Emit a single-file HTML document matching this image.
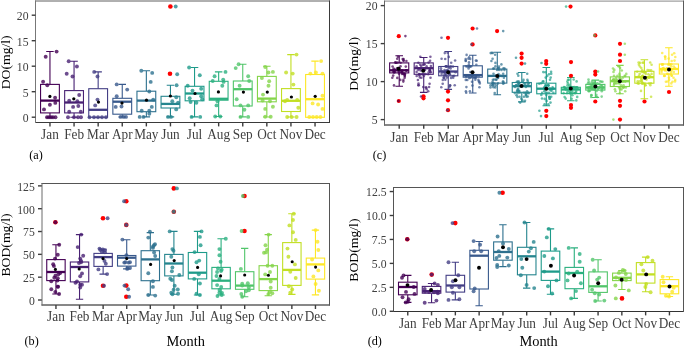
<!DOCTYPE html>
<html><head><meta charset="utf-8"><style>
html,body{margin:0;padding:0;background:#fff;}
svg{display:block;-webkit-font-smoothing:antialiased;filter:blur(0.3px);}
text{font-family:"Liberation Serif",serif;}
.tk{font-size:13.3px;fill:#404040;}
.xt{font-size:13.6px;fill:#404040;}
.mo{font-size:15px;fill:#000;}
.yt{font-size:13.7px;fill:#000;}
.lb{font-size:12.2px;fill:#000;}
</style></head><body>
<svg width="685" height="349" viewBox="0 0 685 349">
<rect width="685" height="349" fill="#fff"/>
<path d="M35.00 1.00H330.00" stroke="#616161" stroke-width="1"/>
<path d="M35.00 122.50H330.00" stroke="#3a3a3a" stroke-width="1"/>
<path d="M35.50 0.50V123.00" stroke="#777" stroke-width="1"/>
<path d="M329.50 0.50V123.00" stroke="#3a3a3a" stroke-width="1"/>
<line x1="31.70" y1="117.20" x2="35.50" y2="117.20" stroke="#3d3d3d" stroke-width="1.4"/>
<line x1="31.70" y1="91.70" x2="35.50" y2="91.70" stroke="#3d3d3d" stroke-width="1.4"/>
<line x1="31.70" y1="66.20" x2="35.50" y2="66.20" stroke="#3d3d3d" stroke-width="1.4"/>
<line x1="31.70" y1="40.70" x2="35.50" y2="40.70" stroke="#3d3d3d" stroke-width="1.4"/>
<line x1="31.70" y1="15.20" x2="35.50" y2="15.20" stroke="#3d3d3d" stroke-width="1.4"/>
<line x1="49.96" y1="122.40" x2="49.96" y2="126.40" stroke="#3d3d3d" stroke-width="1.4"/>
<line x1="74.06" y1="122.40" x2="74.06" y2="126.40" stroke="#3d3d3d" stroke-width="1.4"/>
<line x1="98.16" y1="122.40" x2="98.16" y2="126.40" stroke="#3d3d3d" stroke-width="1.4"/>
<line x1="122.25" y1="122.40" x2="122.25" y2="126.40" stroke="#3d3d3d" stroke-width="1.4"/>
<line x1="146.35" y1="122.40" x2="146.35" y2="126.40" stroke="#3d3d3d" stroke-width="1.4"/>
<line x1="170.45" y1="122.40" x2="170.45" y2="126.40" stroke="#3d3d3d" stroke-width="1.4"/>
<line x1="194.55" y1="122.40" x2="194.55" y2="126.40" stroke="#3d3d3d" stroke-width="1.4"/>
<line x1="218.65" y1="122.40" x2="218.65" y2="126.40" stroke="#3d3d3d" stroke-width="1.4"/>
<line x1="242.75" y1="122.40" x2="242.75" y2="126.40" stroke="#3d3d3d" stroke-width="1.4"/>
<line x1="266.84" y1="122.40" x2="266.84" y2="126.40" stroke="#3d3d3d" stroke-width="1.4"/>
<line x1="290.94" y1="122.40" x2="290.94" y2="126.40" stroke="#3d3d3d" stroke-width="1.4"/>
<line x1="315.04" y1="122.40" x2="315.04" y2="126.40" stroke="#3d3d3d" stroke-width="1.4"/>
<path d="M384.00 1.10H684.00" stroke="#888" stroke-width="1"/>
<path d="M384.00 125.00H684.00" stroke="#111" stroke-width="1"/>
<path d="M384.50 0.60V125.50" stroke="#666" stroke-width="1"/>
<path d="M683.50 0.60V125.50" stroke="#5a5a5a" stroke-width="1"/>
<line x1="380.70" y1="119.60" x2="384.50" y2="119.60" stroke="#3d3d3d" stroke-width="1.4"/>
<line x1="380.70" y1="81.60" x2="384.50" y2="81.60" stroke="#3d3d3d" stroke-width="1.4"/>
<line x1="380.70" y1="43.60" x2="384.50" y2="43.60" stroke="#3d3d3d" stroke-width="1.4"/>
<line x1="380.70" y1="5.60" x2="384.50" y2="5.60" stroke="#3d3d3d" stroke-width="1.4"/>
<line x1="399.21" y1="124.80" x2="399.21" y2="128.80" stroke="#3d3d3d" stroke-width="1.4"/>
<line x1="423.73" y1="124.80" x2="423.73" y2="128.80" stroke="#3d3d3d" stroke-width="1.4"/>
<line x1="448.24" y1="124.80" x2="448.24" y2="128.80" stroke="#3d3d3d" stroke-width="1.4"/>
<line x1="472.76" y1="124.80" x2="472.76" y2="128.80" stroke="#3d3d3d" stroke-width="1.4"/>
<line x1="497.28" y1="124.80" x2="497.28" y2="128.80" stroke="#3d3d3d" stroke-width="1.4"/>
<line x1="521.79" y1="124.80" x2="521.79" y2="128.80" stroke="#3d3d3d" stroke-width="1.4"/>
<line x1="546.31" y1="124.80" x2="546.31" y2="128.80" stroke="#3d3d3d" stroke-width="1.4"/>
<line x1="570.82" y1="124.80" x2="570.82" y2="128.80" stroke="#3d3d3d" stroke-width="1.4"/>
<line x1="595.34" y1="124.80" x2="595.34" y2="128.80" stroke="#3d3d3d" stroke-width="1.4"/>
<line x1="619.86" y1="124.80" x2="619.86" y2="128.80" stroke="#3d3d3d" stroke-width="1.4"/>
<line x1="644.37" y1="124.80" x2="644.37" y2="128.80" stroke="#3d3d3d" stroke-width="1.4"/>
<line x1="668.89" y1="124.80" x2="668.89" y2="128.80" stroke="#3d3d3d" stroke-width="1.4"/>
<path d="M41.50 183.50H330.00" stroke="#555" stroke-width="1"/>
<path d="M41.50 305.00H330.00" stroke="#111" stroke-width="1"/>
<path d="M42.00 183.00V305.50" stroke="#6B6B6B" stroke-width="1"/>
<path d="M329.50 183.00V305.50" stroke="#555" stroke-width="1"/>
<line x1="38.00" y1="300.00" x2="41.80" y2="300.00" stroke="#3d3d3d" stroke-width="1.4"/>
<line x1="38.00" y1="277.18" x2="41.80" y2="277.18" stroke="#3d3d3d" stroke-width="1.4"/>
<line x1="38.00" y1="254.35" x2="41.80" y2="254.35" stroke="#3d3d3d" stroke-width="1.4"/>
<line x1="38.00" y1="231.52" x2="41.80" y2="231.52" stroke="#3d3d3d" stroke-width="1.4"/>
<line x1="38.00" y1="208.70" x2="41.80" y2="208.70" stroke="#3d3d3d" stroke-width="1.4"/>
<line x1="38.00" y1="185.88" x2="41.80" y2="185.88" stroke="#3d3d3d" stroke-width="1.4"/>
<line x1="55.95" y1="305.00" x2="55.95" y2="309.00" stroke="#3d3d3d" stroke-width="1.4"/>
<line x1="79.54" y1="305.00" x2="79.54" y2="309.00" stroke="#3d3d3d" stroke-width="1.4"/>
<line x1="103.13" y1="305.00" x2="103.13" y2="309.00" stroke="#3d3d3d" stroke-width="1.4"/>
<line x1="126.72" y1="305.00" x2="126.72" y2="309.00" stroke="#3d3d3d" stroke-width="1.4"/>
<line x1="150.31" y1="305.00" x2="150.31" y2="309.00" stroke="#3d3d3d" stroke-width="1.4"/>
<line x1="173.90" y1="305.00" x2="173.90" y2="309.00" stroke="#3d3d3d" stroke-width="1.4"/>
<line x1="197.50" y1="305.00" x2="197.50" y2="309.00" stroke="#3d3d3d" stroke-width="1.4"/>
<line x1="221.09" y1="305.00" x2="221.09" y2="309.00" stroke="#3d3d3d" stroke-width="1.4"/>
<line x1="244.68" y1="305.00" x2="244.68" y2="309.00" stroke="#3d3d3d" stroke-width="1.4"/>
<line x1="268.27" y1="305.00" x2="268.27" y2="309.00" stroke="#3d3d3d" stroke-width="1.4"/>
<line x1="291.86" y1="305.00" x2="291.86" y2="309.00" stroke="#3d3d3d" stroke-width="1.4"/>
<line x1="315.45" y1="305.00" x2="315.45" y2="309.00" stroke="#3d3d3d" stroke-width="1.4"/>
<path d="M393.00 187.50H684.00" stroke="#555" stroke-width="1"/>
<path d="M393.00 311.50H684.00" stroke="#333" stroke-width="1"/>
<path d="M393.50 187.00V312.00" stroke="#555" stroke-width="1"/>
<path d="M683.50 187.00V312.00" stroke="#555" stroke-width="1"/>
<line x1="389.70" y1="311.30" x2="393.50" y2="311.30" stroke="#3d3d3d" stroke-width="1.4"/>
<line x1="389.70" y1="287.35" x2="393.50" y2="287.35" stroke="#3d3d3d" stroke-width="1.4"/>
<line x1="389.70" y1="263.40" x2="393.50" y2="263.40" stroke="#3d3d3d" stroke-width="1.4"/>
<line x1="389.70" y1="239.45" x2="393.50" y2="239.45" stroke="#3d3d3d" stroke-width="1.4"/>
<line x1="389.70" y1="215.50" x2="393.50" y2="215.50" stroke="#3d3d3d" stroke-width="1.4"/>
<line x1="389.70" y1="191.55" x2="393.50" y2="191.55" stroke="#3d3d3d" stroke-width="1.4"/>
<line x1="407.77" y1="311.40" x2="407.77" y2="315.40" stroke="#3d3d3d" stroke-width="1.4"/>
<line x1="431.56" y1="311.40" x2="431.56" y2="315.40" stroke="#3d3d3d" stroke-width="1.4"/>
<line x1="455.35" y1="311.40" x2="455.35" y2="315.40" stroke="#3d3d3d" stroke-width="1.4"/>
<line x1="479.13" y1="311.40" x2="479.13" y2="315.40" stroke="#3d3d3d" stroke-width="1.4"/>
<line x1="502.92" y1="311.40" x2="502.92" y2="315.40" stroke="#3d3d3d" stroke-width="1.4"/>
<line x1="526.71" y1="311.40" x2="526.71" y2="315.40" stroke="#3d3d3d" stroke-width="1.4"/>
<line x1="550.49" y1="311.40" x2="550.49" y2="315.40" stroke="#3d3d3d" stroke-width="1.4"/>
<line x1="574.28" y1="311.40" x2="574.28" y2="315.40" stroke="#3d3d3d" stroke-width="1.4"/>
<line x1="598.07" y1="311.40" x2="598.07" y2="315.40" stroke="#3d3d3d" stroke-width="1.4"/>
<line x1="621.85" y1="311.40" x2="621.85" y2="315.40" stroke="#3d3d3d" stroke-width="1.4"/>
<line x1="645.64" y1="311.40" x2="645.64" y2="315.40" stroke="#3d3d3d" stroke-width="1.4"/>
<line x1="669.43" y1="311.40" x2="669.43" y2="315.40" stroke="#3d3d3d" stroke-width="1.4"/>
<path d="M49.96 51.50V84.40M49.96 112.90V117.20M46.22 51.50H53.69M46.22 117.20H53.69" stroke="#440154" stroke-width="1.1" fill="none"/>
<rect x="40.56" y="84.40" width="18.80" height="28.50" fill="#fff" stroke="#440154" stroke-width="1.1"/>
<path d="M40.56 100.60H59.36" stroke="#440154" stroke-width="2.3"/>
<circle cx="56.6" cy="51.6" r="1.95" fill="#440154" fill-opacity="0.8"/>
<circle cx="45.7" cy="56.7" r="1.95" fill="#440154" fill-opacity="0.8"/>
<circle cx="43.1" cy="81.8" r="1.95" fill="#440154" fill-opacity="0.8"/>
<circle cx="47.3" cy="85.2" r="1.95" fill="#440154" fill-opacity="0.8"/>
<circle cx="55.1" cy="97.8" r="1.95" fill="#440154" fill-opacity="0.8"/>
<circle cx="55.3" cy="102.9" r="1.95" fill="#440154" fill-opacity="0.8"/>
<circle cx="49.9" cy="104.7" r="1.95" fill="#440154" fill-opacity="0.8"/>
<circle cx="44.0" cy="109.4" r="1.95" fill="#440154" fill-opacity="0.8"/>
<circle cx="47.0" cy="117.2" r="1.95" fill="#440154" fill-opacity="0.8"/>
<circle cx="49.0" cy="117.2" r="1.95" fill="#440154" fill-opacity="0.8"/>
<circle cx="51.0" cy="117.2" r="1.95" fill="#440154" fill-opacity="0.8"/>
<circle cx="53.0" cy="117.2" r="1.95" fill="#440154" fill-opacity="0.8"/>
<circle cx="55.5" cy="117.2" r="1.95" fill="#440154" fill-opacity="0.8"/>
<circle cx="49.90" cy="96.40" r="1.6" fill="#000"/>
<path d="M74.06 61.30V90.60M74.06 112.90V117.20M70.32 61.30H77.79M70.32 117.20H77.79" stroke="#482173" stroke-width="1.1" fill="none"/>
<rect x="64.66" y="90.60" width="18.80" height="22.30" fill="#fff" stroke="#482173" stroke-width="1.1"/>
<path d="M64.66 102.50H83.46" stroke="#482173" stroke-width="2.3"/>
<circle cx="68.7" cy="61.3" r="1.95" fill="#482173" fill-opacity="0.8"/>
<circle cx="76.9" cy="66.5" r="1.95" fill="#482173" fill-opacity="0.8"/>
<circle cx="66.7" cy="73.7" r="1.95" fill="#482173" fill-opacity="0.8"/>
<circle cx="72.5" cy="76.5" r="1.95" fill="#482173" fill-opacity="0.8"/>
<circle cx="79.2" cy="95.0" r="1.95" fill="#482173" fill-opacity="0.8"/>
<circle cx="77.3" cy="101.2" r="1.95" fill="#482173" fill-opacity="0.8"/>
<circle cx="69.2" cy="100.8" r="1.95" fill="#482173" fill-opacity="0.8"/>
<circle cx="73.1" cy="106.9" r="1.95" fill="#482173" fill-opacity="0.8"/>
<circle cx="78.3" cy="106.0" r="1.95" fill="#482173" fill-opacity="0.8"/>
<circle cx="69.2" cy="111.7" r="1.95" fill="#482173" fill-opacity="0.8"/>
<circle cx="80.8" cy="111.7" r="1.95" fill="#482173" fill-opacity="0.8"/>
<circle cx="68.0" cy="117.2" r="1.95" fill="#482173" fill-opacity="0.8"/>
<circle cx="74.0" cy="117.2" r="1.95" fill="#482173" fill-opacity="0.8"/>
<circle cx="78.0" cy="117.2" r="1.95" fill="#482173" fill-opacity="0.8"/>
<circle cx="81.0" cy="117.2" r="1.95" fill="#482173" fill-opacity="0.8"/>
<circle cx="73.80" cy="98.80" r="1.6" fill="#000"/>
<path d="M98.16 71.90V88.70M98.16 117.20V117.20M94.42 71.90H101.89M94.42 117.20H101.89" stroke="#433E85" stroke-width="1.1" fill="none"/>
<rect x="88.76" y="88.70" width="18.80" height="28.50" fill="#fff" stroke="#433E85" stroke-width="1.1"/>
<path d="M88.76 109.80H107.55" stroke="#433E85" stroke-width="2.3"/>
<circle cx="94.2" cy="71.9" r="1.95" fill="#433E85" fill-opacity="0.8"/>
<circle cx="97.5" cy="76.5" r="1.95" fill="#433E85" fill-opacity="0.8"/>
<circle cx="97.5" cy="99.6" r="1.95" fill="#433E85" fill-opacity="0.8"/>
<circle cx="95.2" cy="105.4" r="1.95" fill="#433E85" fill-opacity="0.8"/>
<circle cx="89.5" cy="117.2" r="1.95" fill="#433E85" fill-opacity="0.8"/>
<circle cx="94.0" cy="117.2" r="1.95" fill="#433E85" fill-opacity="0.8"/>
<circle cx="98.0" cy="117.2" r="1.95" fill="#433E85" fill-opacity="0.8"/>
<circle cx="102.0" cy="117.2" r="1.95" fill="#433E85" fill-opacity="0.8"/>
<circle cx="106.0" cy="117.2" r="1.95" fill="#433E85" fill-opacity="0.8"/>
<circle cx="98.50" cy="102.10" r="1.6" fill="#000"/>
<path d="M122.25 84.40V98.30M122.25 114.20V117.00M118.52 84.40H125.99M118.52 117.00H125.99" stroke="#38598C" stroke-width="1.1" fill="none"/>
<rect x="112.86" y="98.30" width="18.80" height="15.90" fill="#fff" stroke="#38598C" stroke-width="1.1"/>
<path d="M112.86 101.70H131.65" stroke="#38598C" stroke-width="2.3"/>
<circle cx="116.7" cy="84.4" r="1.95" fill="#38598C" fill-opacity="0.8"/>
<circle cx="127.2" cy="89.6" r="1.95" fill="#38598C" fill-opacity="0.8"/>
<circle cx="116.7" cy="96.3" r="1.95" fill="#38598C" fill-opacity="0.8"/>
<circle cx="115.7" cy="106.9" r="1.95" fill="#38598C" fill-opacity="0.8"/>
<circle cx="121.5" cy="106.5" r="1.95" fill="#38598C" fill-opacity="0.8"/>
<circle cx="120.5" cy="116.9" r="1.95" fill="#38598C" fill-opacity="0.8"/>
<circle cx="123.5" cy="116.9" r="1.95" fill="#38598C" fill-opacity="0.8"/>
<circle cx="126.0" cy="116.9" r="1.95" fill="#38598C" fill-opacity="0.8"/>
<circle cx="122.00" cy="103.10" r="1.6" fill="#000"/>
<path d="M146.35 70.80V91.20M146.35 111.70V116.90M142.62 70.80H150.09M142.62 116.90H150.09" stroke="#2D708E" stroke-width="1.1" fill="none"/>
<rect x="136.95" y="91.20" width="18.80" height="20.50" fill="#fff" stroke="#2D708E" stroke-width="1.1"/>
<path d="M136.95 100.60H155.75" stroke="#2D708E" stroke-width="2.3"/>
<circle cx="141.3" cy="70.8" r="1.95" fill="#2D708E" fill-opacity="0.8"/>
<circle cx="152.2" cy="72.9" r="1.95" fill="#2D708E" fill-opacity="0.8"/>
<circle cx="150.7" cy="81.9" r="1.95" fill="#2D708E" fill-opacity="0.8"/>
<circle cx="149.3" cy="91.5" r="1.95" fill="#2D708E" fill-opacity="0.8"/>
<circle cx="153.2" cy="99.6" r="1.95" fill="#2D708E" fill-opacity="0.8"/>
<circle cx="141.7" cy="110.8" r="1.95" fill="#2D708E" fill-opacity="0.8"/>
<circle cx="149.3" cy="110.8" r="1.95" fill="#2D708E" fill-opacity="0.8"/>
<circle cx="151.8" cy="106.9" r="1.95" fill="#2D708E" fill-opacity="0.8"/>
<circle cx="139.7" cy="116.9" r="1.95" fill="#2D708E" fill-opacity="0.8"/>
<circle cx="143.5" cy="116.9" r="1.95" fill="#2D708E" fill-opacity="0.8"/>
<circle cx="149.3" cy="113.7" r="1.95" fill="#2D708E" fill-opacity="0.8"/>
<circle cx="146.50" cy="100.20" r="1.6" fill="#000"/>
<path d="M170.45 85.20V96.30M170.45 108.00V116.90M166.72 85.20H174.19M166.72 116.90H174.19" stroke="#25858E" stroke-width="1.1" fill="none"/>
<rect x="161.05" y="96.30" width="18.80" height="11.70" fill="#fff" stroke="#25858E" stroke-width="1.1"/>
<path d="M161.05 103.90H179.85" stroke="#25858E" stroke-width="2.3"/>
<circle cx="170.40" cy="6.50" r="2.3" fill="#F00"/>
<circle cx="170.00" cy="73.70" r="2.3" fill="#F00"/>
<circle cx="175.7" cy="6.5" r="1.95" fill="#25858E" fill-opacity="0.8"/>
<circle cx="177.2" cy="74.2" r="1.95" fill="#25858E" fill-opacity="0.8"/>
<circle cx="176.6" cy="85.2" r="1.95" fill="#25858E" fill-opacity="0.8"/>
<circle cx="172.3" cy="101.2" r="1.95" fill="#25858E" fill-opacity="0.8"/>
<circle cx="176.3" cy="97.3" r="1.95" fill="#25858E" fill-opacity="0.8"/>
<circle cx="178.1" cy="102.6" r="1.95" fill="#25858E" fill-opacity="0.8"/>
<circle cx="176.2" cy="109.4" r="1.95" fill="#25858E" fill-opacity="0.8"/>
<circle cx="168.0" cy="116.9" r="1.95" fill="#25858E" fill-opacity="0.8"/>
<circle cx="171.0" cy="116.9" r="1.95" fill="#25858E" fill-opacity="0.8"/>
<circle cx="170.40" cy="96.00" r="1.6" fill="#000"/>
<path d="M194.55 67.50V86.30M194.55 100.80V116.90M190.81 67.50H198.28M190.81 116.90H198.28" stroke="#1E9B8A" stroke-width="1.1" fill="none"/>
<rect x="185.15" y="86.30" width="18.80" height="14.50" fill="#fff" stroke="#1E9B8A" stroke-width="1.1"/>
<path d="M185.15 93.50H203.95" stroke="#1E9B8A" stroke-width="2.3"/>
<circle cx="189.1" cy="67.5" r="1.95" fill="#1E9B8A" fill-opacity="0.8"/>
<circle cx="199.8" cy="75.2" r="1.95" fill="#1E9B8A" fill-opacity="0.8"/>
<circle cx="187.7" cy="85.8" r="1.95" fill="#1E9B8A" fill-opacity="0.8"/>
<circle cx="192.5" cy="90.6" r="1.95" fill="#1E9B8A" fill-opacity="0.8"/>
<circle cx="201.2" cy="88.7" r="1.95" fill="#1E9B8A" fill-opacity="0.8"/>
<circle cx="189.7" cy="98.3" r="1.95" fill="#1E9B8A" fill-opacity="0.8"/>
<circle cx="201.2" cy="96.3" r="1.95" fill="#1E9B8A" fill-opacity="0.8"/>
<circle cx="202.2" cy="99.2" r="1.95" fill="#1E9B8A" fill-opacity="0.8"/>
<circle cx="190.6" cy="102.1" r="1.95" fill="#1E9B8A" fill-opacity="0.8"/>
<circle cx="196.4" cy="102.7" r="1.95" fill="#1E9B8A" fill-opacity="0.8"/>
<circle cx="200.2" cy="116.9" r="1.95" fill="#1E9B8A" fill-opacity="0.8"/>
<circle cx="191.6" cy="116.9" r="1.95" fill="#1E9B8A" fill-opacity="0.8"/>
<circle cx="195.00" cy="93.50" r="1.6" fill="#000"/>
<path d="M218.65 71.90V81.30M218.65 100.20V116.50M214.91 71.90H222.38M214.91 116.50H222.38" stroke="#2BB07F" stroke-width="1.1" fill="none"/>
<rect x="209.25" y="81.30" width="18.80" height="18.90" fill="#fff" stroke="#2BB07F" stroke-width="1.1"/>
<path d="M209.25 98.80H228.05" stroke="#2BB07F" stroke-width="2.3"/>
<circle cx="225.5" cy="71.9" r="1.95" fill="#2BB07F" fill-opacity="0.8"/>
<circle cx="214.6" cy="76.2" r="1.95" fill="#2BB07F" fill-opacity="0.8"/>
<circle cx="223.2" cy="79.6" r="1.95" fill="#2BB07F" fill-opacity="0.8"/>
<circle cx="212.7" cy="81.0" r="1.95" fill="#2BB07F" fill-opacity="0.8"/>
<circle cx="222.3" cy="85.8" r="1.95" fill="#2BB07F" fill-opacity="0.8"/>
<circle cx="223.6" cy="81.9" r="1.95" fill="#2BB07F" fill-opacity="0.8"/>
<circle cx="217.5" cy="101.2" r="1.95" fill="#2BB07F" fill-opacity="0.8"/>
<circle cx="216.5" cy="105.4" r="1.95" fill="#2BB07F" fill-opacity="0.8"/>
<circle cx="215.2" cy="116.5" r="1.95" fill="#2BB07F" fill-opacity="0.8"/>
<circle cx="220.3" cy="116.5" r="1.95" fill="#2BB07F" fill-opacity="0.8"/>
<circle cx="218.40" cy="91.90" r="1.6" fill="#000"/>
<path d="M242.75 64.20V81.00M242.75 106.00V116.90M239.01 64.20H246.48M239.01 116.90H246.48" stroke="#51C56A" stroke-width="1.1" fill="none"/>
<rect x="233.35" y="81.00" width="18.80" height="25.00" fill="#fff" stroke="#51C56A" stroke-width="1.1"/>
<path d="M233.35 89.20H252.14" stroke="#51C56A" stroke-width="2.3"/>
<circle cx="238.6" cy="64.2" r="1.95" fill="#51C56A" fill-opacity="0.8"/>
<circle cx="235.7" cy="68.1" r="1.95" fill="#51C56A" fill-opacity="0.8"/>
<circle cx="248.2" cy="76.2" r="1.95" fill="#51C56A" fill-opacity="0.8"/>
<circle cx="249.2" cy="81.0" r="1.95" fill="#51C56A" fill-opacity="0.8"/>
<circle cx="239.6" cy="85.8" r="1.95" fill="#51C56A" fill-opacity="0.8"/>
<circle cx="236.7" cy="99.2" r="1.95" fill="#51C56A" fill-opacity="0.8"/>
<circle cx="240.5" cy="105.4" r="1.95" fill="#51C56A" fill-opacity="0.8"/>
<circle cx="248.2" cy="105.4" r="1.95" fill="#51C56A" fill-opacity="0.8"/>
<circle cx="244.4" cy="109.8" r="1.95" fill="#51C56A" fill-opacity="0.8"/>
<circle cx="240.5" cy="116.9" r="1.95" fill="#51C56A" fill-opacity="0.8"/>
<circle cx="248.2" cy="116.9" r="1.95" fill="#51C56A" fill-opacity="0.8"/>
<circle cx="243.40" cy="92.10" r="1.6" fill="#000"/>
<path d="M266.84 66.30V76.40M266.84 101.80V117.00M263.11 66.30H270.58M263.11 117.00H270.58" stroke="#85D54A" stroke-width="1.1" fill="none"/>
<rect x="257.45" y="76.40" width="18.80" height="25.40" fill="#fff" stroke="#85D54A" stroke-width="1.1"/>
<path d="M257.45 98.60H276.24" stroke="#85D54A" stroke-width="2.3"/>
<circle cx="265.2" cy="67.0" r="1.95" fill="#85D54A" fill-opacity="0.8"/>
<circle cx="272.9" cy="71.9" r="1.95" fill="#85D54A" fill-opacity="0.8"/>
<circle cx="268.5" cy="72.5" r="1.95" fill="#85D54A" fill-opacity="0.8"/>
<circle cx="261.9" cy="78.0" r="1.95" fill="#85D54A" fill-opacity="0.8"/>
<circle cx="269.2" cy="81.3" r="1.95" fill="#85D54A" fill-opacity="0.8"/>
<circle cx="268.5" cy="85.7" r="1.95" fill="#85D54A" fill-opacity="0.8"/>
<circle cx="263.0" cy="94.6" r="1.95" fill="#85D54A" fill-opacity="0.8"/>
<circle cx="272.9" cy="106.7" r="1.95" fill="#85D54A" fill-opacity="0.8"/>
<circle cx="265.2" cy="108.9" r="1.95" fill="#85D54A" fill-opacity="0.8"/>
<circle cx="270.7" cy="116.8" r="1.95" fill="#85D54A" fill-opacity="0.8"/>
<circle cx="265.2" cy="116.8" r="1.95" fill="#85D54A" fill-opacity="0.8"/>
<circle cx="262.6" cy="100.5" r="1.95" fill="#85D54A" fill-opacity="0.8"/>
<circle cx="270.0" cy="101.2" r="1.95" fill="#85D54A" fill-opacity="0.8"/>
<circle cx="267.30" cy="92.10" r="1.6" fill="#000"/>
<path d="M290.94 54.60V88.60M290.94 111.50V117.00M287.21 54.60H294.68M287.21 117.00H294.68" stroke="#C2DF23" stroke-width="1.1" fill="none"/>
<rect x="281.54" y="88.60" width="18.80" height="22.90" fill="#fff" stroke="#C2DF23" stroke-width="1.1"/>
<path d="M281.54 100.80H300.34" stroke="#C2DF23" stroke-width="2.3"/>
<circle cx="296.5" cy="54.6" r="1.95" fill="#C2DF23" fill-opacity="0.8"/>
<circle cx="286.1" cy="72.5" r="1.95" fill="#C2DF23" fill-opacity="0.8"/>
<circle cx="292.7" cy="73.6" r="1.95" fill="#C2DF23" fill-opacity="0.8"/>
<circle cx="293.4" cy="84.6" r="1.95" fill="#C2DF23" fill-opacity="0.8"/>
<circle cx="287.2" cy="100.0" r="1.95" fill="#C2DF23" fill-opacity="0.8"/>
<circle cx="297.2" cy="100.0" r="1.95" fill="#C2DF23" fill-opacity="0.8"/>
<circle cx="285.0" cy="101.2" r="1.95" fill="#C2DF23" fill-opacity="0.8"/>
<circle cx="298.3" cy="107.8" r="1.95" fill="#C2DF23" fill-opacity="0.8"/>
<circle cx="287.2" cy="117.0" r="1.95" fill="#C2DF23" fill-opacity="0.8"/>
<circle cx="291.6" cy="117.0" r="1.95" fill="#C2DF23" fill-opacity="0.8"/>
<circle cx="296.6" cy="117.0" r="1.95" fill="#C2DF23" fill-opacity="0.8"/>
<circle cx="291.40" cy="97.00" r="1.6" fill="#000"/>
<path d="M315.04 61.10V74.50M315.04 117.30V117.30M311.31 61.10H318.78M311.31 117.30H318.78" stroke="#FDE725" stroke-width="1.1" fill="none"/>
<rect x="305.64" y="74.50" width="18.80" height="42.80" fill="#fff" stroke="#FDE725" stroke-width="1.1"/>
<path d="M305.64 99.20H324.44" stroke="#FDE725" stroke-width="2.3"/>
<circle cx="321.1" cy="61.1" r="1.95" fill="#FDE725" fill-opacity="0.8"/>
<circle cx="315.9" cy="72.5" r="1.95" fill="#FDE725" fill-opacity="0.8"/>
<circle cx="310.4" cy="73.6" r="1.95" fill="#FDE725" fill-opacity="0.8"/>
<circle cx="322.5" cy="73.6" r="1.95" fill="#FDE725" fill-opacity="0.8"/>
<circle cx="322.5" cy="95.7" r="1.95" fill="#FDE725" fill-opacity="0.8"/>
<circle cx="312.6" cy="103.4" r="1.95" fill="#FDE725" fill-opacity="0.8"/>
<circle cx="318.1" cy="104.5" r="1.95" fill="#FDE725" fill-opacity="0.8"/>
<circle cx="322.5" cy="108.9" r="1.95" fill="#FDE725" fill-opacity="0.8"/>
<circle cx="309.3" cy="117.0" r="1.95" fill="#FDE725" fill-opacity="0.8"/>
<circle cx="313.0" cy="117.0" r="1.95" fill="#FDE725" fill-opacity="0.8"/>
<circle cx="316.7" cy="117.0" r="1.95" fill="#FDE725" fill-opacity="0.8"/>
<circle cx="320.4" cy="117.0" r="1.95" fill="#FDE725" fill-opacity="0.8"/>
<circle cx="315.20" cy="96.30" r="1.6" fill="#000"/>
<path d="M399.21 55.80V62.90M399.21 72.90V86.30M395.41 55.80H403.01M395.41 86.30H403.01" stroke="#440154" stroke-width="1.1" fill="none"/>
<rect x="389.65" y="62.90" width="19.12" height="10.00" fill="#fff" stroke="#440154" stroke-width="1.1"/>
<path d="M389.65 70.30H408.77" stroke="#440154" stroke-width="2.3"/>
<circle cx="398.80" cy="36.20" r="2.1" fill="#F00"/>
<circle cx="398.80" cy="101.00" r="2.1" fill="#F00"/>
<circle cx="405.4" cy="36.1" r="1.3" fill="#440154" fill-opacity="0.7"/>
<circle cx="398.4" cy="101.0" r="1.3" fill="#440154" fill-opacity="0.7"/>
<circle cx="392.9" cy="70.3" r="1.3" fill="#440154" fill-opacity="0.7"/>
<circle cx="399.3" cy="68.0" r="1.3" fill="#440154" fill-opacity="0.7"/>
<circle cx="393.2" cy="75.6" r="1.3" fill="#440154" fill-opacity="0.7"/>
<circle cx="395.1" cy="71.9" r="1.3" fill="#440154" fill-opacity="0.7"/>
<circle cx="397.7" cy="62.6" r="1.3" fill="#440154" fill-opacity="0.7"/>
<circle cx="396.1" cy="62.8" r="1.3" fill="#440154" fill-opacity="0.7"/>
<circle cx="403.9" cy="73.9" r="1.3" fill="#440154" fill-opacity="0.7"/>
<circle cx="397.3" cy="77.9" r="1.3" fill="#440154" fill-opacity="0.7"/>
<circle cx="394.9" cy="69.9" r="1.3" fill="#440154" fill-opacity="0.7"/>
<circle cx="400.5" cy="66.3" r="1.3" fill="#440154" fill-opacity="0.7"/>
<circle cx="402.1" cy="70.4" r="1.3" fill="#440154" fill-opacity="0.7"/>
<circle cx="404.7" cy="77.8" r="1.3" fill="#440154" fill-opacity="0.7"/>
<circle cx="393.6" cy="68.6" r="1.3" fill="#440154" fill-opacity="0.7"/>
<circle cx="399.0" cy="71.9" r="1.3" fill="#440154" fill-opacity="0.7"/>
<circle cx="400.3" cy="79.9" r="1.3" fill="#440154" fill-opacity="0.7"/>
<circle cx="400.6" cy="62.7" r="1.3" fill="#440154" fill-opacity="0.7"/>
<circle cx="405.8" cy="66.6" r="1.3" fill="#440154" fill-opacity="0.7"/>
<circle cx="402.2" cy="71.8" r="1.3" fill="#440154" fill-opacity="0.7"/>
<circle cx="396.0" cy="62.8" r="1.3" fill="#440154" fill-opacity="0.7"/>
<circle cx="398.6" cy="71.8" r="1.3" fill="#440154" fill-opacity="0.7"/>
<circle cx="403.2" cy="73.7" r="1.3" fill="#440154" fill-opacity="0.7"/>
<circle cx="404.7" cy="73.9" r="1.3" fill="#440154" fill-opacity="0.7"/>
<circle cx="404.8" cy="75.9" r="1.3" fill="#440154" fill-opacity="0.7"/>
<circle cx="398.0" cy="56.8" r="1.3" fill="#440154" fill-opacity="0.7"/>
<circle cx="394.1" cy="72.4" r="1.3" fill="#440154" fill-opacity="0.7"/>
<circle cx="399.0" cy="73.8" r="1.3" fill="#440154" fill-opacity="0.7"/>
<circle cx="398.0" cy="68.0" r="1.3" fill="#440154" fill-opacity="0.7"/>
<circle cx="402.0" cy="72.4" r="1.3" fill="#440154" fill-opacity="0.7"/>
<circle cx="392.6" cy="66.5" r="1.3" fill="#440154" fill-opacity="0.7"/>
<circle cx="403.6" cy="59.0" r="1.3" fill="#440154" fill-opacity="0.7"/>
<circle cx="401.2" cy="71.9" r="1.3" fill="#440154" fill-opacity="0.7"/>
<circle cx="394.2" cy="71.9" r="1.3" fill="#440154" fill-opacity="0.7"/>
<circle cx="394.1" cy="69.9" r="1.3" fill="#440154" fill-opacity="0.7"/>
<circle cx="404.7" cy="75.6" r="1.3" fill="#440154" fill-opacity="0.7"/>
<circle cx="397.0" cy="68.2" r="1.3" fill="#440154" fill-opacity="0.7"/>
<circle cx="406.5" cy="70.4" r="1.3" fill="#440154" fill-opacity="0.7"/>
<circle cx="393.4" cy="71.9" r="1.3" fill="#440154" fill-opacity="0.7"/>
<circle cx="394.2" cy="70.4" r="1.3" fill="#440154" fill-opacity="0.7"/>
<circle cx="394.0" cy="85.4" r="1.3" fill="#440154" fill-opacity="0.7"/>
<circle cx="406.2" cy="70.2" r="1.3" fill="#440154" fill-opacity="0.7"/>
<circle cx="397.2" cy="58.7" r="1.3" fill="#440154" fill-opacity="0.7"/>
<circle cx="403.3" cy="81.6" r="1.3" fill="#440154" fill-opacity="0.7"/>
<circle cx="406.3" cy="70.4" r="1.3" fill="#440154" fill-opacity="0.7"/>
<circle cx="402.7" cy="59.0" r="1.3" fill="#440154" fill-opacity="0.7"/>
<circle cx="392.3" cy="77.7" r="1.3" fill="#440154" fill-opacity="0.7"/>
<circle cx="402.0" cy="73.9" r="1.3" fill="#440154" fill-opacity="0.7"/>
<circle cx="406.4" cy="61.0" r="1.3" fill="#440154" fill-opacity="0.7"/>
<circle cx="395.2" cy="62.4" r="1.3" fill="#440154" fill-opacity="0.7"/>
<circle cx="405.1" cy="74.1" r="1.3" fill="#440154" fill-opacity="0.7"/>
<circle cx="403.6" cy="60.8" r="1.3" fill="#440154" fill-opacity="0.7"/>
<circle cx="403.4" cy="79.9" r="1.3" fill="#440154" fill-opacity="0.7"/>
<circle cx="403.5" cy="60.5" r="1.3" fill="#440154" fill-opacity="0.7"/>
<circle cx="398.60" cy="68.70" r="2.0" fill="#000"/>
<path d="M423.73 57.50V62.90M423.73 74.30V92.40M419.93 57.50H427.53M419.93 92.40H427.53" stroke="#482173" stroke-width="1.1" fill="none"/>
<rect x="414.16" y="62.90" width="19.12" height="11.40" fill="#fff" stroke="#482173" stroke-width="1.1"/>
<path d="M414.16 68.20H433.29" stroke="#482173" stroke-width="2.3"/>
<circle cx="423.50" cy="96.30" r="2.1" fill="#F00"/>
<circle cx="423.50" cy="98.30" r="2.1" fill="#F00"/>
<circle cx="421.0" cy="96.5" r="1.3" fill="#482173" fill-opacity="0.7"/>
<circle cx="422.2" cy="74.3" r="1.3" fill="#482173" fill-opacity="0.7"/>
<circle cx="418.9" cy="74.1" r="1.3" fill="#482173" fill-opacity="0.7"/>
<circle cx="428.2" cy="74.2" r="1.3" fill="#482173" fill-opacity="0.7"/>
<circle cx="426.0" cy="87.6" r="1.3" fill="#482173" fill-opacity="0.7"/>
<circle cx="416.6" cy="71.9" r="1.3" fill="#482173" fill-opacity="0.7"/>
<circle cx="430.1" cy="60.7" r="1.3" fill="#482173" fill-opacity="0.7"/>
<circle cx="419.5" cy="74.2" r="1.3" fill="#482173" fill-opacity="0.7"/>
<circle cx="425.0" cy="70.0" r="1.3" fill="#482173" fill-opacity="0.7"/>
<circle cx="429.8" cy="70.0" r="1.3" fill="#482173" fill-opacity="0.7"/>
<circle cx="429.7" cy="70.3" r="1.3" fill="#482173" fill-opacity="0.7"/>
<circle cx="424.2" cy="74.0" r="1.3" fill="#482173" fill-opacity="0.7"/>
<circle cx="419.1" cy="68.3" r="1.3" fill="#482173" fill-opacity="0.7"/>
<circle cx="423.3" cy="87.1" r="1.3" fill="#482173" fill-opacity="0.7"/>
<circle cx="424.0" cy="64.4" r="1.3" fill="#482173" fill-opacity="0.7"/>
<circle cx="424.6" cy="64.3" r="1.3" fill="#482173" fill-opacity="0.7"/>
<circle cx="423.8" cy="76.1" r="1.3" fill="#482173" fill-opacity="0.7"/>
<circle cx="422.9" cy="64.7" r="1.3" fill="#482173" fill-opacity="0.7"/>
<circle cx="426.6" cy="66.4" r="1.3" fill="#482173" fill-opacity="0.7"/>
<circle cx="430.2" cy="72.1" r="1.3" fill="#482173" fill-opacity="0.7"/>
<circle cx="420.2" cy="64.8" r="1.3" fill="#482173" fill-opacity="0.7"/>
<circle cx="418.4" cy="62.8" r="1.3" fill="#482173" fill-opacity="0.7"/>
<circle cx="419.9" cy="77.5" r="1.3" fill="#482173" fill-opacity="0.7"/>
<circle cx="429.6" cy="83.7" r="1.3" fill="#482173" fill-opacity="0.7"/>
<circle cx="418.5" cy="83.6" r="1.3" fill="#482173" fill-opacity="0.7"/>
<circle cx="430.4" cy="56.7" r="1.3" fill="#482173" fill-opacity="0.7"/>
<circle cx="428.6" cy="72.4" r="1.3" fill="#482173" fill-opacity="0.7"/>
<circle cx="421.4" cy="77.8" r="1.3" fill="#482173" fill-opacity="0.7"/>
<circle cx="416.7" cy="76.0" r="1.3" fill="#482173" fill-opacity="0.7"/>
<circle cx="421.2" cy="66.1" r="1.3" fill="#482173" fill-opacity="0.7"/>
<circle cx="430.9" cy="66.1" r="1.3" fill="#482173" fill-opacity="0.7"/>
<circle cx="420.3" cy="56.7" r="1.3" fill="#482173" fill-opacity="0.7"/>
<circle cx="418.3" cy="85.3" r="1.3" fill="#482173" fill-opacity="0.7"/>
<circle cx="420.2" cy="74.2" r="1.3" fill="#482173" fill-opacity="0.7"/>
<circle cx="426.7" cy="89.2" r="1.3" fill="#482173" fill-opacity="0.7"/>
<circle cx="422.6" cy="74.1" r="1.3" fill="#482173" fill-opacity="0.7"/>
<circle cx="428.2" cy="91.2" r="1.3" fill="#482173" fill-opacity="0.7"/>
<circle cx="429.1" cy="87.0" r="1.3" fill="#482173" fill-opacity="0.7"/>
<circle cx="430.0" cy="70.2" r="1.3" fill="#482173" fill-opacity="0.7"/>
<circle cx="419.9" cy="68.3" r="1.3" fill="#482173" fill-opacity="0.7"/>
<circle cx="419.3" cy="75.6" r="1.3" fill="#482173" fill-opacity="0.7"/>
<circle cx="420.6" cy="70.4" r="1.3" fill="#482173" fill-opacity="0.7"/>
<circle cx="416.6" cy="66.3" r="1.3" fill="#482173" fill-opacity="0.7"/>
<circle cx="424.5" cy="68.4" r="1.3" fill="#482173" fill-opacity="0.7"/>
<circle cx="417.9" cy="80.0" r="1.3" fill="#482173" fill-opacity="0.7"/>
<circle cx="428.6" cy="62.6" r="1.3" fill="#482173" fill-opacity="0.7"/>
<circle cx="430.8" cy="72.2" r="1.3" fill="#482173" fill-opacity="0.7"/>
<circle cx="425.7" cy="74.1" r="1.3" fill="#482173" fill-opacity="0.7"/>
<circle cx="418.3" cy="69.9" r="1.3" fill="#482173" fill-opacity="0.7"/>
<circle cx="418.8" cy="85.3" r="1.3" fill="#482173" fill-opacity="0.7"/>
<circle cx="426.2" cy="87.5" r="1.3" fill="#482173" fill-opacity="0.7"/>
<circle cx="423.1" cy="70.1" r="1.3" fill="#482173" fill-opacity="0.7"/>
<circle cx="430.5" cy="77.7" r="1.3" fill="#482173" fill-opacity="0.7"/>
<circle cx="423.20" cy="70.70" r="2.0" fill="#000"/>
<path d="M448.24 51.50V66.50M448.24 75.80V89.40M444.44 51.50H452.04M444.44 89.40H452.04" stroke="#433E85" stroke-width="1.1" fill="none"/>
<rect x="438.68" y="66.50" width="19.12" height="9.30" fill="#fff" stroke="#433E85" stroke-width="1.1"/>
<path d="M438.68 71.50H457.80" stroke="#433E85" stroke-width="2.3"/>
<circle cx="448.00" cy="37.80" r="2.1" fill="#F00"/>
<circle cx="448.00" cy="91.60" r="2.1" fill="#F00"/>
<circle cx="448.00" cy="100.30" r="2.1" fill="#F00"/>
<circle cx="448.00" cy="110.20" r="2.1" fill="#F00"/>
<circle cx="441.5" cy="37.8" r="1.3" fill="#433E85" fill-opacity="0.7"/>
<circle cx="447.5" cy="110.2" r="1.3" fill="#433E85" fill-opacity="0.7"/>
<circle cx="455.1" cy="60.5" r="1.3" fill="#433E85" fill-opacity="0.7"/>
<circle cx="446.5" cy="71.8" r="1.3" fill="#433E85" fill-opacity="0.7"/>
<circle cx="448.3" cy="73.8" r="1.3" fill="#433E85" fill-opacity="0.7"/>
<circle cx="446.8" cy="77.6" r="1.3" fill="#433E85" fill-opacity="0.7"/>
<circle cx="444.3" cy="75.8" r="1.3" fill="#433E85" fill-opacity="0.7"/>
<circle cx="450.6" cy="68.5" r="1.3" fill="#433E85" fill-opacity="0.7"/>
<circle cx="445.7" cy="66.3" r="1.3" fill="#433E85" fill-opacity="0.7"/>
<circle cx="450.3" cy="66.5" r="1.3" fill="#433E85" fill-opacity="0.7"/>
<circle cx="450.1" cy="85.6" r="1.3" fill="#433E85" fill-opacity="0.7"/>
<circle cx="448.6" cy="68.1" r="1.3" fill="#433E85" fill-opacity="0.7"/>
<circle cx="453.0" cy="66.6" r="1.3" fill="#433E85" fill-opacity="0.7"/>
<circle cx="451.1" cy="66.5" r="1.3" fill="#433E85" fill-opacity="0.7"/>
<circle cx="446.2" cy="75.7" r="1.3" fill="#433E85" fill-opacity="0.7"/>
<circle cx="450.1" cy="85.4" r="1.3" fill="#433E85" fill-opacity="0.7"/>
<circle cx="440.9" cy="68.3" r="1.3" fill="#433E85" fill-opacity="0.7"/>
<circle cx="448.8" cy="56.9" r="1.3" fill="#433E85" fill-opacity="0.7"/>
<circle cx="444.6" cy="72.2" r="1.3" fill="#433E85" fill-opacity="0.7"/>
<circle cx="443.9" cy="77.9" r="1.3" fill="#433E85" fill-opacity="0.7"/>
<circle cx="446.5" cy="66.4" r="1.3" fill="#433E85" fill-opacity="0.7"/>
<circle cx="450.0" cy="74.2" r="1.3" fill="#433E85" fill-opacity="0.7"/>
<circle cx="444.6" cy="70.0" r="1.3" fill="#433E85" fill-opacity="0.7"/>
<circle cx="441.1" cy="70.2" r="1.3" fill="#433E85" fill-opacity="0.7"/>
<circle cx="451.1" cy="77.9" r="1.3" fill="#433E85" fill-opacity="0.7"/>
<circle cx="447.7" cy="70.2" r="1.3" fill="#433E85" fill-opacity="0.7"/>
<circle cx="443.8" cy="72.3" r="1.3" fill="#433E85" fill-opacity="0.7"/>
<circle cx="447.6" cy="52.8" r="1.3" fill="#433E85" fill-opacity="0.7"/>
<circle cx="444.8" cy="53.1" r="1.3" fill="#433E85" fill-opacity="0.7"/>
<circle cx="449.4" cy="87.1" r="1.3" fill="#433E85" fill-opacity="0.7"/>
<circle cx="442.8" cy="80.0" r="1.3" fill="#433E85" fill-opacity="0.7"/>
<circle cx="451.2" cy="62.8" r="1.3" fill="#433E85" fill-opacity="0.7"/>
<circle cx="441.3" cy="87.3" r="1.3" fill="#433E85" fill-opacity="0.7"/>
<circle cx="445.3" cy="79.7" r="1.3" fill="#433E85" fill-opacity="0.7"/>
<circle cx="453.2" cy="77.7" r="1.3" fill="#433E85" fill-opacity="0.7"/>
<circle cx="442.7" cy="83.7" r="1.3" fill="#433E85" fill-opacity="0.7"/>
<circle cx="445.2" cy="59.0" r="1.3" fill="#433E85" fill-opacity="0.7"/>
<circle cx="449.6" cy="74.3" r="1.3" fill="#433E85" fill-opacity="0.7"/>
<circle cx="441.6" cy="73.9" r="1.3" fill="#433E85" fill-opacity="0.7"/>
<circle cx="454.7" cy="85.3" r="1.3" fill="#433E85" fill-opacity="0.7"/>
<circle cx="443.7" cy="77.8" r="1.3" fill="#433E85" fill-opacity="0.7"/>
<circle cx="452.8" cy="76.1" r="1.3" fill="#433E85" fill-opacity="0.7"/>
<circle cx="449.0" cy="66.7" r="1.3" fill="#433E85" fill-opacity="0.7"/>
<circle cx="447.5" cy="72.2" r="1.3" fill="#433E85" fill-opacity="0.7"/>
<circle cx="441.6" cy="58.7" r="1.3" fill="#433E85" fill-opacity="0.7"/>
<circle cx="445.9" cy="66.4" r="1.3" fill="#433E85" fill-opacity="0.7"/>
<circle cx="444.7" cy="74.3" r="1.3" fill="#433E85" fill-opacity="0.7"/>
<circle cx="446.7" cy="70.2" r="1.3" fill="#433E85" fill-opacity="0.7"/>
<circle cx="454.2" cy="75.7" r="1.3" fill="#433E85" fill-opacity="0.7"/>
<circle cx="455.5" cy="72.3" r="1.3" fill="#433E85" fill-opacity="0.7"/>
<circle cx="442.2" cy="71.9" r="1.3" fill="#433E85" fill-opacity="0.7"/>
<circle cx="444.7" cy="71.9" r="1.3" fill="#433E85" fill-opacity="0.7"/>
<circle cx="447.0" cy="66.5" r="1.3" fill="#433E85" fill-opacity="0.7"/>
<circle cx="445.9" cy="73.9" r="1.3" fill="#433E85" fill-opacity="0.7"/>
<circle cx="448.20" cy="72.20" r="2.0" fill="#000"/>
<path d="M472.76 55.20V65.80M472.76 77.20V93.00M468.96 55.20H476.56M468.96 93.00H476.56" stroke="#38598C" stroke-width="1.1" fill="none"/>
<rect x="463.20" y="65.80" width="19.12" height="11.40" fill="#fff" stroke="#38598C" stroke-width="1.1"/>
<path d="M463.20 75.10H482.32" stroke="#38598C" stroke-width="2.3"/>
<circle cx="472.60" cy="28.50" r="2.1" fill="#F00"/>
<circle cx="472.60" cy="44.40" r="2.1" fill="#F00"/>
<circle cx="477.0" cy="28.5" r="1.3" fill="#38598C" fill-opacity="0.7"/>
<circle cx="471.5" cy="44.4" r="1.3" fill="#38598C" fill-opacity="0.7"/>
<circle cx="467.3" cy="80.0" r="1.3" fill="#38598C" fill-opacity="0.7"/>
<circle cx="468.6" cy="68.5" r="1.3" fill="#38598C" fill-opacity="0.7"/>
<circle cx="472.0" cy="75.8" r="1.3" fill="#38598C" fill-opacity="0.7"/>
<circle cx="465.7" cy="59.0" r="1.3" fill="#38598C" fill-opacity="0.7"/>
<circle cx="472.4" cy="85.6" r="1.3" fill="#38598C" fill-opacity="0.7"/>
<circle cx="479.0" cy="75.8" r="1.3" fill="#38598C" fill-opacity="0.7"/>
<circle cx="469.1" cy="57.2" r="1.3" fill="#38598C" fill-opacity="0.7"/>
<circle cx="475.4" cy="77.8" r="1.3" fill="#38598C" fill-opacity="0.7"/>
<circle cx="476.7" cy="60.8" r="1.3" fill="#38598C" fill-opacity="0.7"/>
<circle cx="476.9" cy="75.6" r="1.3" fill="#38598C" fill-opacity="0.7"/>
<circle cx="469.9" cy="91.2" r="1.3" fill="#38598C" fill-opacity="0.7"/>
<circle cx="475.7" cy="77.9" r="1.3" fill="#38598C" fill-opacity="0.7"/>
<circle cx="474.0" cy="77.8" r="1.3" fill="#38598C" fill-opacity="0.7"/>
<circle cx="465.6" cy="76.0" r="1.3" fill="#38598C" fill-opacity="0.7"/>
<circle cx="474.9" cy="76.2" r="1.3" fill="#38598C" fill-opacity="0.7"/>
<circle cx="469.0" cy="62.4" r="1.3" fill="#38598C" fill-opacity="0.7"/>
<circle cx="465.7" cy="60.6" r="1.3" fill="#38598C" fill-opacity="0.7"/>
<circle cx="469.2" cy="75.9" r="1.3" fill="#38598C" fill-opacity="0.7"/>
<circle cx="465.9" cy="66.2" r="1.3" fill="#38598C" fill-opacity="0.7"/>
<circle cx="468.3" cy="76.0" r="1.3" fill="#38598C" fill-opacity="0.7"/>
<circle cx="468.4" cy="58.8" r="1.3" fill="#38598C" fill-opacity="0.7"/>
<circle cx="468.8" cy="64.7" r="1.3" fill="#38598C" fill-opacity="0.7"/>
<circle cx="479.4" cy="87.2" r="1.3" fill="#38598C" fill-opacity="0.7"/>
<circle cx="471.5" cy="75.7" r="1.3" fill="#38598C" fill-opacity="0.7"/>
<circle cx="471.2" cy="66.2" r="1.3" fill="#38598C" fill-opacity="0.7"/>
<circle cx="466.2" cy="92.8" r="1.3" fill="#38598C" fill-opacity="0.7"/>
<circle cx="478.4" cy="79.9" r="1.3" fill="#38598C" fill-opacity="0.7"/>
<circle cx="470.2" cy="66.7" r="1.3" fill="#38598C" fill-opacity="0.7"/>
<circle cx="465.9" cy="91.2" r="1.3" fill="#38598C" fill-opacity="0.7"/>
<circle cx="470.3" cy="72.0" r="1.3" fill="#38598C" fill-opacity="0.7"/>
<circle cx="470.6" cy="77.7" r="1.3" fill="#38598C" fill-opacity="0.7"/>
<circle cx="468.5" cy="66.7" r="1.3" fill="#38598C" fill-opacity="0.7"/>
<circle cx="471.8" cy="76.1" r="1.3" fill="#38598C" fill-opacity="0.7"/>
<circle cx="478.9" cy="81.5" r="1.3" fill="#38598C" fill-opacity="0.7"/>
<circle cx="465.8" cy="79.9" r="1.3" fill="#38598C" fill-opacity="0.7"/>
<circle cx="466.0" cy="76.1" r="1.3" fill="#38598C" fill-opacity="0.7"/>
<circle cx="469.2" cy="78.1" r="1.3" fill="#38598C" fill-opacity="0.7"/>
<circle cx="469.4" cy="66.3" r="1.3" fill="#38598C" fill-opacity="0.7"/>
<circle cx="475.9" cy="60.6" r="1.3" fill="#38598C" fill-opacity="0.7"/>
<circle cx="476.5" cy="75.6" r="1.3" fill="#38598C" fill-opacity="0.7"/>
<circle cx="465.8" cy="61.0" r="1.3" fill="#38598C" fill-opacity="0.7"/>
<circle cx="479.4" cy="81.9" r="1.3" fill="#38598C" fill-opacity="0.7"/>
<circle cx="472.7" cy="75.9" r="1.3" fill="#38598C" fill-opacity="0.7"/>
<circle cx="476.3" cy="64.7" r="1.3" fill="#38598C" fill-opacity="0.7"/>
<circle cx="470.2" cy="58.9" r="1.3" fill="#38598C" fill-opacity="0.7"/>
<circle cx="466.6" cy="76.1" r="1.3" fill="#38598C" fill-opacity="0.7"/>
<circle cx="466.4" cy="87.1" r="1.3" fill="#38598C" fill-opacity="0.7"/>
<circle cx="479.8" cy="83.4" r="1.3" fill="#38598C" fill-opacity="0.7"/>
<circle cx="466.6" cy="54.9" r="1.3" fill="#38598C" fill-opacity="0.7"/>
<circle cx="472.0" cy="81.7" r="1.3" fill="#38598C" fill-opacity="0.7"/>
<circle cx="475.3" cy="79.8" r="1.3" fill="#38598C" fill-opacity="0.7"/>
<circle cx="467.2" cy="66.5" r="1.3" fill="#38598C" fill-opacity="0.7"/>
<circle cx="472.50" cy="72.20" r="2.0" fill="#000"/>
<path d="M497.28 52.20V69.10M497.28 83.10V94.80M493.48 52.20H501.08M493.48 94.80H501.08" stroke="#2D708E" stroke-width="1.1" fill="none"/>
<rect x="487.71" y="69.10" width="19.12" height="14.00" fill="#fff" stroke="#2D708E" stroke-width="1.1"/>
<path d="M487.71 75.90H506.84" stroke="#2D708E" stroke-width="2.3"/>
<circle cx="497.10" cy="31.10" r="2.1" fill="#F00"/>
<circle cx="503.2" cy="31.1" r="1.3" fill="#2D708E" fill-opacity="0.7"/>
<circle cx="495.4" cy="66.4" r="1.3" fill="#2D708E" fill-opacity="0.7"/>
<circle cx="493.5" cy="73.8" r="1.3" fill="#2D708E" fill-opacity="0.7"/>
<circle cx="494.7" cy="93.0" r="1.3" fill="#2D708E" fill-opacity="0.7"/>
<circle cx="493.3" cy="83.5" r="1.3" fill="#2D708E" fill-opacity="0.7"/>
<circle cx="491.4" cy="61.0" r="1.3" fill="#2D708E" fill-opacity="0.7"/>
<circle cx="503.4" cy="81.8" r="1.3" fill="#2D708E" fill-opacity="0.7"/>
<circle cx="492.7" cy="83.3" r="1.3" fill="#2D708E" fill-opacity="0.7"/>
<circle cx="495.4" cy="62.9" r="1.3" fill="#2D708E" fill-opacity="0.7"/>
<circle cx="501.4" cy="64.4" r="1.3" fill="#2D708E" fill-opacity="0.7"/>
<circle cx="499.0" cy="68.4" r="1.3" fill="#2D708E" fill-opacity="0.7"/>
<circle cx="492.9" cy="85.2" r="1.3" fill="#2D708E" fill-opacity="0.7"/>
<circle cx="492.9" cy="79.8" r="1.3" fill="#2D708E" fill-opacity="0.7"/>
<circle cx="492.6" cy="85.5" r="1.3" fill="#2D708E" fill-opacity="0.7"/>
<circle cx="498.0" cy="78.0" r="1.3" fill="#2D708E" fill-opacity="0.7"/>
<circle cx="498.0" cy="83.4" r="1.3" fill="#2D708E" fill-opacity="0.7"/>
<circle cx="500.1" cy="75.7" r="1.3" fill="#2D708E" fill-opacity="0.7"/>
<circle cx="503.9" cy="77.7" r="1.3" fill="#2D708E" fill-opacity="0.7"/>
<circle cx="496.0" cy="79.6" r="1.3" fill="#2D708E" fill-opacity="0.7"/>
<circle cx="492.8" cy="53.0" r="1.3" fill="#2D708E" fill-opacity="0.7"/>
<circle cx="503.2" cy="73.7" r="1.3" fill="#2D708E" fill-opacity="0.7"/>
<circle cx="502.9" cy="81.5" r="1.3" fill="#2D708E" fill-opacity="0.7"/>
<circle cx="498.0" cy="77.5" r="1.3" fill="#2D708E" fill-opacity="0.7"/>
<circle cx="499.1" cy="70.0" r="1.3" fill="#2D708E" fill-opacity="0.7"/>
<circle cx="494.1" cy="79.5" r="1.3" fill="#2D708E" fill-opacity="0.7"/>
<circle cx="497.1" cy="70.0" r="1.3" fill="#2D708E" fill-opacity="0.7"/>
<circle cx="491.8" cy="52.9" r="1.3" fill="#2D708E" fill-opacity="0.7"/>
<circle cx="490.7" cy="53.1" r="1.3" fill="#2D708E" fill-opacity="0.7"/>
<circle cx="499.0" cy="66.6" r="1.3" fill="#2D708E" fill-opacity="0.7"/>
<circle cx="493.2" cy="68.5" r="1.3" fill="#2D708E" fill-opacity="0.7"/>
<circle cx="492.6" cy="81.8" r="1.3" fill="#2D708E" fill-opacity="0.7"/>
<circle cx="495.6" cy="85.4" r="1.3" fill="#2D708E" fill-opacity="0.7"/>
<circle cx="503.1" cy="83.6" r="1.3" fill="#2D708E" fill-opacity="0.7"/>
<circle cx="490.5" cy="87.5" r="1.3" fill="#2D708E" fill-opacity="0.7"/>
<circle cx="498.0" cy="68.4" r="1.3" fill="#2D708E" fill-opacity="0.7"/>
<circle cx="498.5" cy="74.0" r="1.3" fill="#2D708E" fill-opacity="0.7"/>
<circle cx="496.4" cy="79.7" r="1.3" fill="#2D708E" fill-opacity="0.7"/>
<circle cx="493.4" cy="87.3" r="1.3" fill="#2D708E" fill-opacity="0.7"/>
<circle cx="492.6" cy="58.8" r="1.3" fill="#2D708E" fill-opacity="0.7"/>
<circle cx="496.3" cy="75.7" r="1.3" fill="#2D708E" fill-opacity="0.7"/>
<circle cx="490.5" cy="85.4" r="1.3" fill="#2D708E" fill-opacity="0.7"/>
<circle cx="501.4" cy="76.0" r="1.3" fill="#2D708E" fill-opacity="0.7"/>
<circle cx="495.5" cy="75.9" r="1.3" fill="#2D708E" fill-opacity="0.7"/>
<circle cx="504.6" cy="68.5" r="1.3" fill="#2D708E" fill-opacity="0.7"/>
<circle cx="504.4" cy="70.0" r="1.3" fill="#2D708E" fill-opacity="0.7"/>
<circle cx="492.3" cy="83.7" r="1.3" fill="#2D708E" fill-opacity="0.7"/>
<circle cx="495.1" cy="54.7" r="1.3" fill="#2D708E" fill-opacity="0.7"/>
<circle cx="494.0" cy="68.5" r="1.3" fill="#2D708E" fill-opacity="0.7"/>
<circle cx="503.5" cy="68.3" r="1.3" fill="#2D708E" fill-opacity="0.7"/>
<circle cx="494.6" cy="83.5" r="1.3" fill="#2D708E" fill-opacity="0.7"/>
<circle cx="503.7" cy="83.3" r="1.3" fill="#2D708E" fill-opacity="0.7"/>
<circle cx="501.5" cy="70.0" r="1.3" fill="#2D708E" fill-opacity="0.7"/>
<circle cx="495.2" cy="87.4" r="1.3" fill="#2D708E" fill-opacity="0.7"/>
<circle cx="497.30" cy="75.90" r="2.0" fill="#000"/>
<path d="M521.79 72.50V82.50M521.79 92.30V101.90M517.99 72.50H525.59M517.99 101.90H525.59" stroke="#25858E" stroke-width="1.1" fill="none"/>
<rect x="512.23" y="82.50" width="19.12" height="9.80" fill="#fff" stroke="#25858E" stroke-width="1.1"/>
<path d="M512.23 86.20H531.35" stroke="#25858E" stroke-width="2.3"/>
<circle cx="521.60" cy="53.60" r="2.1" fill="#F00"/>
<circle cx="521.60" cy="57.80" r="2.1" fill="#F00"/>
<circle cx="521.60" cy="63.60" r="2.1" fill="#F00"/>
<circle cx="516.0" cy="57.8" r="1.3" fill="#25858E" fill-opacity="0.7"/>
<circle cx="525.0" cy="63.6" r="1.3" fill="#25858E" fill-opacity="0.7"/>
<circle cx="527.4" cy="79.7" r="1.3" fill="#25858E" fill-opacity="0.7"/>
<circle cx="520.2" cy="102.6" r="1.3" fill="#25858E" fill-opacity="0.7"/>
<circle cx="522.9" cy="81.9" r="1.3" fill="#25858E" fill-opacity="0.7"/>
<circle cx="517.0" cy="91.1" r="1.3" fill="#25858E" fill-opacity="0.7"/>
<circle cx="518.2" cy="85.6" r="1.3" fill="#25858E" fill-opacity="0.7"/>
<circle cx="524.2" cy="83.6" r="1.3" fill="#25858E" fill-opacity="0.7"/>
<circle cx="516.6" cy="85.1" r="1.3" fill="#25858E" fill-opacity="0.7"/>
<circle cx="527.6" cy="85.4" r="1.3" fill="#25858E" fill-opacity="0.7"/>
<circle cx="514.8" cy="93.1" r="1.3" fill="#25858E" fill-opacity="0.7"/>
<circle cx="519.7" cy="92.8" r="1.3" fill="#25858E" fill-opacity="0.7"/>
<circle cx="517.4" cy="96.9" r="1.3" fill="#25858E" fill-opacity="0.7"/>
<circle cx="528.2" cy="83.3" r="1.3" fill="#25858E" fill-opacity="0.7"/>
<circle cx="523.8" cy="92.8" r="1.3" fill="#25858E" fill-opacity="0.7"/>
<circle cx="518.3" cy="75.8" r="1.3" fill="#25858E" fill-opacity="0.7"/>
<circle cx="519.6" cy="96.8" r="1.3" fill="#25858E" fill-opacity="0.7"/>
<circle cx="525.2" cy="85.7" r="1.3" fill="#25858E" fill-opacity="0.7"/>
<circle cx="522.3" cy="100.3" r="1.3" fill="#25858E" fill-opacity="0.7"/>
<circle cx="525.9" cy="87.0" r="1.3" fill="#25858E" fill-opacity="0.7"/>
<circle cx="516.5" cy="95.2" r="1.3" fill="#25858E" fill-opacity="0.7"/>
<circle cx="523.9" cy="96.8" r="1.3" fill="#25858E" fill-opacity="0.7"/>
<circle cx="518.9" cy="81.5" r="1.3" fill="#25858E" fill-opacity="0.7"/>
<circle cx="525.0" cy="100.8" r="1.3" fill="#25858E" fill-opacity="0.7"/>
<circle cx="521.3" cy="98.8" r="1.3" fill="#25858E" fill-opacity="0.7"/>
<circle cx="516.0" cy="85.2" r="1.3" fill="#25858E" fill-opacity="0.7"/>
<circle cx="525.5" cy="92.9" r="1.3" fill="#25858E" fill-opacity="0.7"/>
<circle cx="518.3" cy="83.6" r="1.3" fill="#25858E" fill-opacity="0.7"/>
<circle cx="522.1" cy="85.6" r="1.3" fill="#25858E" fill-opacity="0.7"/>
<circle cx="517.6" cy="89.5" r="1.3" fill="#25858E" fill-opacity="0.7"/>
<circle cx="517.9" cy="81.5" r="1.3" fill="#25858E" fill-opacity="0.7"/>
<circle cx="519.2" cy="83.6" r="1.3" fill="#25858E" fill-opacity="0.7"/>
<circle cx="527.8" cy="81.4" r="1.3" fill="#25858E" fill-opacity="0.7"/>
<circle cx="528.8" cy="83.6" r="1.3" fill="#25858E" fill-opacity="0.7"/>
<circle cx="527.1" cy="91.2" r="1.3" fill="#25858E" fill-opacity="0.7"/>
<circle cx="519.0" cy="91.1" r="1.3" fill="#25858E" fill-opacity="0.7"/>
<circle cx="527.8" cy="96.5" r="1.3" fill="#25858E" fill-opacity="0.7"/>
<circle cx="528.1" cy="92.8" r="1.3" fill="#25858E" fill-opacity="0.7"/>
<circle cx="515.0" cy="87.0" r="1.3" fill="#25858E" fill-opacity="0.7"/>
<circle cx="525.3" cy="83.6" r="1.3" fill="#25858E" fill-opacity="0.7"/>
<circle cx="526.5" cy="96.7" r="1.3" fill="#25858E" fill-opacity="0.7"/>
<circle cx="527.2" cy="73.7" r="1.3" fill="#25858E" fill-opacity="0.7"/>
<circle cx="517.5" cy="73.8" r="1.3" fill="#25858E" fill-opacity="0.7"/>
<circle cx="526.4" cy="93.2" r="1.3" fill="#25858E" fill-opacity="0.7"/>
<circle cx="518.7" cy="83.6" r="1.3" fill="#25858E" fill-opacity="0.7"/>
<circle cx="517.5" cy="93.2" r="1.3" fill="#25858E" fill-opacity="0.7"/>
<circle cx="518.2" cy="88.9" r="1.3" fill="#25858E" fill-opacity="0.7"/>
<circle cx="519.2" cy="91.0" r="1.3" fill="#25858E" fill-opacity="0.7"/>
<circle cx="523.5" cy="79.9" r="1.3" fill="#25858E" fill-opacity="0.7"/>
<circle cx="525.8" cy="94.9" r="1.3" fill="#25858E" fill-opacity="0.7"/>
<circle cx="517.6" cy="91.1" r="1.3" fill="#25858E" fill-opacity="0.7"/>
<circle cx="516.9" cy="81.8" r="1.3" fill="#25858E" fill-opacity="0.7"/>
<circle cx="528.8" cy="93.2" r="1.3" fill="#25858E" fill-opacity="0.7"/>
<circle cx="526.2" cy="94.9" r="1.3" fill="#25858E" fill-opacity="0.7"/>
<circle cx="521.50" cy="86.00" r="2.0" fill="#000"/>
<path d="M546.31 67.50V83.20M546.31 93.80V105.80M542.51 67.50H550.11M542.51 105.80H550.11" stroke="#1E9B8A" stroke-width="1.1" fill="none"/>
<rect x="536.75" y="83.20" width="19.12" height="10.60" fill="#fff" stroke="#1E9B8A" stroke-width="1.1"/>
<path d="M536.75 88.70H555.87" stroke="#1E9B8A" stroke-width="2.3"/>
<circle cx="546.20" cy="61.00" r="2.1" fill="#F00"/>
<circle cx="546.20" cy="63.80" r="2.1" fill="#F00"/>
<circle cx="546.30" cy="110.80" r="2.1" fill="#F00"/>
<circle cx="546.30" cy="116.10" r="2.1" fill="#F00"/>
<circle cx="539.4" cy="110.8" r="1.3" fill="#1E9B8A" fill-opacity="0.7"/>
<circle cx="541.0" cy="116.1" r="1.3" fill="#1E9B8A" fill-opacity="0.7"/>
<circle cx="541.5" cy="63.0" r="1.3" fill="#1E9B8A" fill-opacity="0.7"/>
<circle cx="551.2" cy="96.7" r="1.3" fill="#1E9B8A" fill-opacity="0.7"/>
<circle cx="542.1" cy="92.9" r="1.3" fill="#1E9B8A" fill-opacity="0.7"/>
<circle cx="548.3" cy="85.2" r="1.3" fill="#1E9B8A" fill-opacity="0.7"/>
<circle cx="550.5" cy="102.6" r="1.3" fill="#1E9B8A" fill-opacity="0.7"/>
<circle cx="544.8" cy="87.2" r="1.3" fill="#1E9B8A" fill-opacity="0.7"/>
<circle cx="539.3" cy="83.7" r="1.3" fill="#1E9B8A" fill-opacity="0.7"/>
<circle cx="546.3" cy="95.1" r="1.3" fill="#1E9B8A" fill-opacity="0.7"/>
<circle cx="545.7" cy="92.8" r="1.3" fill="#1E9B8A" fill-opacity="0.7"/>
<circle cx="548.5" cy="85.6" r="1.3" fill="#1E9B8A" fill-opacity="0.7"/>
<circle cx="551.4" cy="90.9" r="1.3" fill="#1E9B8A" fill-opacity="0.7"/>
<circle cx="545.4" cy="85.2" r="1.3" fill="#1E9B8A" fill-opacity="0.7"/>
<circle cx="545.7" cy="77.6" r="1.3" fill="#1E9B8A" fill-opacity="0.7"/>
<circle cx="543.4" cy="81.4" r="1.3" fill="#1E9B8A" fill-opacity="0.7"/>
<circle cx="541.2" cy="83.3" r="1.3" fill="#1E9B8A" fill-opacity="0.7"/>
<circle cx="541.3" cy="94.9" r="1.3" fill="#1E9B8A" fill-opacity="0.7"/>
<circle cx="549.7" cy="89.5" r="1.3" fill="#1E9B8A" fill-opacity="0.7"/>
<circle cx="544.6" cy="104.2" r="1.3" fill="#1E9B8A" fill-opacity="0.7"/>
<circle cx="545.4" cy="72.2" r="1.3" fill="#1E9B8A" fill-opacity="0.7"/>
<circle cx="542.0" cy="98.5" r="1.3" fill="#1E9B8A" fill-opacity="0.7"/>
<circle cx="550.6" cy="89.1" r="1.3" fill="#1E9B8A" fill-opacity="0.7"/>
<circle cx="545.8" cy="85.5" r="1.3" fill="#1E9B8A" fill-opacity="0.7"/>
<circle cx="549.9" cy="98.6" r="1.3" fill="#1E9B8A" fill-opacity="0.7"/>
<circle cx="550.0" cy="79.7" r="1.3" fill="#1E9B8A" fill-opacity="0.7"/>
<circle cx="551.9" cy="89.3" r="1.3" fill="#1E9B8A" fill-opacity="0.7"/>
<circle cx="549.0" cy="74.2" r="1.3" fill="#1E9B8A" fill-opacity="0.7"/>
<circle cx="548.2" cy="85.3" r="1.3" fill="#1E9B8A" fill-opacity="0.7"/>
<circle cx="549.4" cy="97.0" r="1.3" fill="#1E9B8A" fill-opacity="0.7"/>
<circle cx="545.6" cy="87.3" r="1.3" fill="#1E9B8A" fill-opacity="0.7"/>
<circle cx="552.6" cy="87.4" r="1.3" fill="#1E9B8A" fill-opacity="0.7"/>
<circle cx="544.7" cy="98.9" r="1.3" fill="#1E9B8A" fill-opacity="0.7"/>
<circle cx="546.9" cy="92.7" r="1.3" fill="#1E9B8A" fill-opacity="0.7"/>
<circle cx="546.6" cy="100.9" r="1.3" fill="#1E9B8A" fill-opacity="0.7"/>
<circle cx="549.5" cy="98.7" r="1.3" fill="#1E9B8A" fill-opacity="0.7"/>
<circle cx="546.6" cy="85.6" r="1.3" fill="#1E9B8A" fill-opacity="0.7"/>
<circle cx="549.0" cy="92.8" r="1.3" fill="#1E9B8A" fill-opacity="0.7"/>
<circle cx="553.4" cy="92.8" r="1.3" fill="#1E9B8A" fill-opacity="0.7"/>
<circle cx="544.8" cy="89.1" r="1.3" fill="#1E9B8A" fill-opacity="0.7"/>
<circle cx="549.2" cy="96.8" r="1.3" fill="#1E9B8A" fill-opacity="0.7"/>
<circle cx="549.9" cy="89.0" r="1.3" fill="#1E9B8A" fill-opacity="0.7"/>
<circle cx="550.7" cy="77.6" r="1.3" fill="#1E9B8A" fill-opacity="0.7"/>
<circle cx="550.4" cy="89.0" r="1.3" fill="#1E9B8A" fill-opacity="0.7"/>
<circle cx="547.2" cy="75.9" r="1.3" fill="#1E9B8A" fill-opacity="0.7"/>
<circle cx="548.3" cy="104.3" r="1.3" fill="#1E9B8A" fill-opacity="0.7"/>
<circle cx="543.3" cy="72.1" r="1.3" fill="#1E9B8A" fill-opacity="0.7"/>
<circle cx="544.2" cy="87.5" r="1.3" fill="#1E9B8A" fill-opacity="0.7"/>
<circle cx="542.7" cy="81.5" r="1.3" fill="#1E9B8A" fill-opacity="0.7"/>
<circle cx="549.6" cy="88.9" r="1.3" fill="#1E9B8A" fill-opacity="0.7"/>
<circle cx="546.0" cy="89.1" r="1.3" fill="#1E9B8A" fill-opacity="0.7"/>
<circle cx="544.3" cy="91.2" r="1.3" fill="#1E9B8A" fill-opacity="0.7"/>
<circle cx="551.1" cy="71.8" r="1.3" fill="#1E9B8A" fill-opacity="0.7"/>
<circle cx="551.2" cy="73.8" r="1.3" fill="#1E9B8A" fill-opacity="0.7"/>
<circle cx="553.0" cy="88.9" r="1.3" fill="#1E9B8A" fill-opacity="0.7"/>
<circle cx="546.30" cy="88.80" r="2.0" fill="#000"/>
<path d="M570.82 77.50V87.30M570.82 93.60V100.70M567.02 77.50H574.62M567.02 100.70H574.62" stroke="#2BB07F" stroke-width="1.1" fill="none"/>
<rect x="561.26" y="87.30" width="19.12" height="6.30" fill="#fff" stroke="#2BB07F" stroke-width="1.1"/>
<path d="M561.26 89.50H580.39" stroke="#2BB07F" stroke-width="2.3"/>
<circle cx="570.50" cy="6.60" r="2.1" fill="#F00"/>
<circle cx="571.00" cy="62.10" r="2.1" fill="#F00"/>
<circle cx="571.00" cy="75.80" r="2.1" fill="#F00"/>
<circle cx="571.00" cy="105.10" r="2.1" fill="#F00"/>
<circle cx="571.00" cy="107.80" r="2.1" fill="#F00"/>
<circle cx="566.1" cy="6.6" r="1.3" fill="#2BB07F" fill-opacity="0.7"/>
<circle cx="565.6" cy="89.0" r="1.3" fill="#2BB07F" fill-opacity="0.7"/>
<circle cx="565.7" cy="98.6" r="1.3" fill="#2BB07F" fill-opacity="0.7"/>
<circle cx="576.6" cy="81.4" r="1.3" fill="#2BB07F" fill-opacity="0.7"/>
<circle cx="576.6" cy="87.4" r="1.3" fill="#2BB07F" fill-opacity="0.7"/>
<circle cx="573.7" cy="79.5" r="1.3" fill="#2BB07F" fill-opacity="0.7"/>
<circle cx="576.5" cy="87.3" r="1.3" fill="#2BB07F" fill-opacity="0.7"/>
<circle cx="565.5" cy="89.0" r="1.3" fill="#2BB07F" fill-opacity="0.7"/>
<circle cx="565.6" cy="89.2" r="1.3" fill="#2BB07F" fill-opacity="0.7"/>
<circle cx="576.2" cy="91.1" r="1.3" fill="#2BB07F" fill-opacity="0.7"/>
<circle cx="571.7" cy="98.7" r="1.3" fill="#2BB07F" fill-opacity="0.7"/>
<circle cx="569.6" cy="87.2" r="1.3" fill="#2BB07F" fill-opacity="0.7"/>
<circle cx="572.8" cy="87.4" r="1.3" fill="#2BB07F" fill-opacity="0.7"/>
<circle cx="577.2" cy="96.9" r="1.3" fill="#2BB07F" fill-opacity="0.7"/>
<circle cx="570.6" cy="93.0" r="1.3" fill="#2BB07F" fill-opacity="0.7"/>
<circle cx="572.7" cy="87.4" r="1.3" fill="#2BB07F" fill-opacity="0.7"/>
<circle cx="570.4" cy="92.9" r="1.3" fill="#2BB07F" fill-opacity="0.7"/>
<circle cx="569.9" cy="87.1" r="1.3" fill="#2BB07F" fill-opacity="0.7"/>
<circle cx="567.8" cy="91.3" r="1.3" fill="#2BB07F" fill-opacity="0.7"/>
<circle cx="567.5" cy="85.4" r="1.3" fill="#2BB07F" fill-opacity="0.7"/>
<circle cx="575.1" cy="87.4" r="1.3" fill="#2BB07F" fill-opacity="0.7"/>
<circle cx="572.1" cy="91.0" r="1.3" fill="#2BB07F" fill-opacity="0.7"/>
<circle cx="574.1" cy="87.0" r="1.3" fill="#2BB07F" fill-opacity="0.7"/>
<circle cx="567.9" cy="83.2" r="1.3" fill="#2BB07F" fill-opacity="0.7"/>
<circle cx="572.4" cy="95.2" r="1.3" fill="#2BB07F" fill-opacity="0.7"/>
<circle cx="572.5" cy="87.5" r="1.3" fill="#2BB07F" fill-opacity="0.7"/>
<circle cx="572.2" cy="87.4" r="1.3" fill="#2BB07F" fill-opacity="0.7"/>
<circle cx="570.2" cy="89.3" r="1.3" fill="#2BB07F" fill-opacity="0.7"/>
<circle cx="564.0" cy="87.1" r="1.3" fill="#2BB07F" fill-opacity="0.7"/>
<circle cx="568.9" cy="79.8" r="1.3" fill="#2BB07F" fill-opacity="0.7"/>
<circle cx="567.3" cy="81.6" r="1.3" fill="#2BB07F" fill-opacity="0.7"/>
<circle cx="569.8" cy="91.0" r="1.3" fill="#2BB07F" fill-opacity="0.7"/>
<circle cx="571.8" cy="87.0" r="1.3" fill="#2BB07F" fill-opacity="0.7"/>
<circle cx="571.9" cy="93.2" r="1.3" fill="#2BB07F" fill-opacity="0.7"/>
<circle cx="569.2" cy="85.1" r="1.3" fill="#2BB07F" fill-opacity="0.7"/>
<circle cx="570.5" cy="87.6" r="1.3" fill="#2BB07F" fill-opacity="0.7"/>
<circle cx="566.6" cy="89.3" r="1.3" fill="#2BB07F" fill-opacity="0.7"/>
<circle cx="573.5" cy="92.7" r="1.3" fill="#2BB07F" fill-opacity="0.7"/>
<circle cx="576.3" cy="100.4" r="1.3" fill="#2BB07F" fill-opacity="0.7"/>
<circle cx="567.0" cy="93.1" r="1.3" fill="#2BB07F" fill-opacity="0.7"/>
<circle cx="574.9" cy="88.9" r="1.3" fill="#2BB07F" fill-opacity="0.7"/>
<circle cx="564.7" cy="87.4" r="1.3" fill="#2BB07F" fill-opacity="0.7"/>
<circle cx="577.2" cy="87.3" r="1.3" fill="#2BB07F" fill-opacity="0.7"/>
<circle cx="563.6" cy="93.1" r="1.3" fill="#2BB07F" fill-opacity="0.7"/>
<circle cx="564.6" cy="97.0" r="1.3" fill="#2BB07F" fill-opacity="0.7"/>
<circle cx="576.1" cy="92.8" r="1.3" fill="#2BB07F" fill-opacity="0.7"/>
<circle cx="571.9" cy="89.1" r="1.3" fill="#2BB07F" fill-opacity="0.7"/>
<circle cx="575.2" cy="92.8" r="1.3" fill="#2BB07F" fill-opacity="0.7"/>
<circle cx="569.6" cy="93.1" r="1.3" fill="#2BB07F" fill-opacity="0.7"/>
<circle cx="575.0" cy="93.3" r="1.3" fill="#2BB07F" fill-opacity="0.7"/>
<circle cx="577.8" cy="88.9" r="1.3" fill="#2BB07F" fill-opacity="0.7"/>
<circle cx="572.4" cy="87.2" r="1.3" fill="#2BB07F" fill-opacity="0.7"/>
<circle cx="568.0" cy="79.8" r="1.3" fill="#2BB07F" fill-opacity="0.7"/>
<circle cx="570.80" cy="88.60" r="2.0" fill="#000"/>
<path d="M595.34 80.10V84.40M595.34 90.10V97.50M591.54 80.10H599.14M591.54 97.50H599.14" stroke="#51C56A" stroke-width="1.1" fill="none"/>
<rect x="585.78" y="84.40" width="19.12" height="5.70" fill="#fff" stroke="#51C56A" stroke-width="1.1"/>
<path d="M585.78 87.50H604.90" stroke="#51C56A" stroke-width="2.3"/>
<circle cx="595.30" cy="35.40" r="2.1" fill="#F00"/>
<circle cx="595.30" cy="71.50" r="2.1" fill="#F00"/>
<circle cx="595.30" cy="74.60" r="2.1" fill="#F00"/>
<circle cx="595.30" cy="101.50" r="2.1" fill="#F00"/>
<circle cx="594.5" cy="35.4" r="1.3" fill="#51C56A" fill-opacity="0.7"/>
<circle cx="598.0" cy="71.5" r="1.3" fill="#51C56A" fill-opacity="0.7"/>
<circle cx="598.1" cy="89.1" r="1.3" fill="#51C56A" fill-opacity="0.7"/>
<circle cx="592.2" cy="85.6" r="1.3" fill="#51C56A" fill-opacity="0.7"/>
<circle cx="596.6" cy="91.1" r="1.3" fill="#51C56A" fill-opacity="0.7"/>
<circle cx="600.2" cy="81.3" r="1.3" fill="#51C56A" fill-opacity="0.7"/>
<circle cx="592.0" cy="81.6" r="1.3" fill="#51C56A" fill-opacity="0.7"/>
<circle cx="601.4" cy="81.7" r="1.3" fill="#51C56A" fill-opacity="0.7"/>
<circle cx="599.7" cy="87.3" r="1.3" fill="#51C56A" fill-opacity="0.7"/>
<circle cx="591.4" cy="95.2" r="1.3" fill="#51C56A" fill-opacity="0.7"/>
<circle cx="591.0" cy="85.4" r="1.3" fill="#51C56A" fill-opacity="0.7"/>
<circle cx="594.7" cy="89.4" r="1.3" fill="#51C56A" fill-opacity="0.7"/>
<circle cx="591.4" cy="95.1" r="1.3" fill="#51C56A" fill-opacity="0.7"/>
<circle cx="595.7" cy="85.6" r="1.3" fill="#51C56A" fill-opacity="0.7"/>
<circle cx="590.8" cy="89.0" r="1.3" fill="#51C56A" fill-opacity="0.7"/>
<circle cx="596.3" cy="94.8" r="1.3" fill="#51C56A" fill-opacity="0.7"/>
<circle cx="588.6" cy="89.0" r="1.3" fill="#51C56A" fill-opacity="0.7"/>
<circle cx="597.3" cy="83.3" r="1.3" fill="#51C56A" fill-opacity="0.7"/>
<circle cx="593.1" cy="83.6" r="1.3" fill="#51C56A" fill-opacity="0.7"/>
<circle cx="602.6" cy="87.0" r="1.3" fill="#51C56A" fill-opacity="0.7"/>
<circle cx="591.8" cy="83.5" r="1.3" fill="#51C56A" fill-opacity="0.7"/>
<circle cx="599.3" cy="83.8" r="1.3" fill="#51C56A" fill-opacity="0.7"/>
<circle cx="588.5" cy="79.6" r="1.3" fill="#51C56A" fill-opacity="0.7"/>
<circle cx="588.7" cy="90.9" r="1.3" fill="#51C56A" fill-opacity="0.7"/>
<circle cx="601.9" cy="85.4" r="1.3" fill="#51C56A" fill-opacity="0.7"/>
<circle cx="593.8" cy="83.6" r="1.3" fill="#51C56A" fill-opacity="0.7"/>
<circle cx="596.3" cy="96.7" r="1.3" fill="#51C56A" fill-opacity="0.7"/>
<circle cx="593.8" cy="85.5" r="1.3" fill="#51C56A" fill-opacity="0.7"/>
<circle cx="602.6" cy="87.6" r="1.3" fill="#51C56A" fill-opacity="0.7"/>
<circle cx="593.2" cy="89.1" r="1.3" fill="#51C56A" fill-opacity="0.7"/>
<circle cx="588.7" cy="81.8" r="1.3" fill="#51C56A" fill-opacity="0.7"/>
<circle cx="602.5" cy="81.7" r="1.3" fill="#51C56A" fill-opacity="0.7"/>
<circle cx="601.8" cy="91.3" r="1.3" fill="#51C56A" fill-opacity="0.7"/>
<circle cx="599.1" cy="87.4" r="1.3" fill="#51C56A" fill-opacity="0.7"/>
<circle cx="589.8" cy="91.0" r="1.3" fill="#51C56A" fill-opacity="0.7"/>
<circle cx="590.1" cy="87.1" r="1.3" fill="#51C56A" fill-opacity="0.7"/>
<circle cx="590.9" cy="87.4" r="1.3" fill="#51C56A" fill-opacity="0.7"/>
<circle cx="601.7" cy="96.6" r="1.3" fill="#51C56A" fill-opacity="0.7"/>
<circle cx="594.6" cy="81.4" r="1.3" fill="#51C56A" fill-opacity="0.7"/>
<circle cx="597.2" cy="97.0" r="1.3" fill="#51C56A" fill-opacity="0.7"/>
<circle cx="595.0" cy="89.4" r="1.3" fill="#51C56A" fill-opacity="0.7"/>
<circle cx="588.8" cy="87.1" r="1.3" fill="#51C56A" fill-opacity="0.7"/>
<circle cx="600.8" cy="85.2" r="1.3" fill="#51C56A" fill-opacity="0.7"/>
<circle cx="592.0" cy="89.0" r="1.3" fill="#51C56A" fill-opacity="0.7"/>
<circle cx="595.2" cy="83.3" r="1.3" fill="#51C56A" fill-opacity="0.7"/>
<circle cx="602.4" cy="89.0" r="1.3" fill="#51C56A" fill-opacity="0.7"/>
<circle cx="591.1" cy="96.9" r="1.3" fill="#51C56A" fill-opacity="0.7"/>
<circle cx="591.0" cy="87.2" r="1.3" fill="#51C56A" fill-opacity="0.7"/>
<circle cx="601.6" cy="89.5" r="1.3" fill="#51C56A" fill-opacity="0.7"/>
<circle cx="588.8" cy="91.3" r="1.3" fill="#51C56A" fill-opacity="0.7"/>
<circle cx="588.2" cy="87.6" r="1.3" fill="#51C56A" fill-opacity="0.7"/>
<circle cx="588.0" cy="83.3" r="1.3" fill="#51C56A" fill-opacity="0.7"/>
<circle cx="594.4" cy="83.3" r="1.3" fill="#51C56A" fill-opacity="0.7"/>
<circle cx="590.0" cy="83.5" r="1.3" fill="#51C56A" fill-opacity="0.7"/>
<circle cx="595.40" cy="86.50" r="2.0" fill="#000"/>
<path d="M619.86 65.40V76.90M619.86 86.50V93.70M616.06 65.40H623.66M616.06 93.70H623.66" stroke="#85D54A" stroke-width="1.1" fill="none"/>
<rect x="610.30" y="76.90" width="19.12" height="9.60" fill="#fff" stroke="#85D54A" stroke-width="1.1"/>
<path d="M610.30 81.20H629.42" stroke="#85D54A" stroke-width="2.3"/>
<circle cx="620.00" cy="43.80" r="2.1" fill="#F00"/>
<circle cx="620.00" cy="54.70" r="2.1" fill="#F00"/>
<circle cx="620.00" cy="61.00" r="2.1" fill="#F00"/>
<circle cx="620.00" cy="100.80" r="2.1" fill="#F00"/>
<circle cx="620.00" cy="105.80" r="2.1" fill="#F00"/>
<circle cx="620.00" cy="119.60" r="2.1" fill="#F00"/>
<circle cx="624.8" cy="43.8" r="1.3" fill="#85D54A" fill-opacity="0.7"/>
<circle cx="624.8" cy="54.7" r="1.3" fill="#85D54A" fill-opacity="0.7"/>
<circle cx="613.4" cy="119.6" r="1.3" fill="#85D54A" fill-opacity="0.7"/>
<circle cx="615.4" cy="91.2" r="1.3" fill="#85D54A" fill-opacity="0.7"/>
<circle cx="619.8" cy="87.4" r="1.3" fill="#85D54A" fill-opacity="0.7"/>
<circle cx="622.9" cy="81.7" r="1.3" fill="#85D54A" fill-opacity="0.7"/>
<circle cx="613.5" cy="71.9" r="1.3" fill="#85D54A" fill-opacity="0.7"/>
<circle cx="613.3" cy="79.8" r="1.3" fill="#85D54A" fill-opacity="0.7"/>
<circle cx="625.2" cy="76.1" r="1.3" fill="#85D54A" fill-opacity="0.7"/>
<circle cx="619.5" cy="81.8" r="1.3" fill="#85D54A" fill-opacity="0.7"/>
<circle cx="624.7" cy="75.7" r="1.3" fill="#85D54A" fill-opacity="0.7"/>
<circle cx="621.3" cy="81.5" r="1.3" fill="#85D54A" fill-opacity="0.7"/>
<circle cx="620.1" cy="89.2" r="1.3" fill="#85D54A" fill-opacity="0.7"/>
<circle cx="625.2" cy="91.3" r="1.3" fill="#85D54A" fill-opacity="0.7"/>
<circle cx="623.6" cy="85.3" r="1.3" fill="#85D54A" fill-opacity="0.7"/>
<circle cx="619.8" cy="93.3" r="1.3" fill="#85D54A" fill-opacity="0.7"/>
<circle cx="612.8" cy="79.7" r="1.3" fill="#85D54A" fill-opacity="0.7"/>
<circle cx="614.0" cy="75.7" r="1.3" fill="#85D54A" fill-opacity="0.7"/>
<circle cx="613.9" cy="85.1" r="1.3" fill="#85D54A" fill-opacity="0.7"/>
<circle cx="621.3" cy="79.4" r="1.3" fill="#85D54A" fill-opacity="0.7"/>
<circle cx="614.0" cy="79.8" r="1.3" fill="#85D54A" fill-opacity="0.7"/>
<circle cx="614.3" cy="69.9" r="1.3" fill="#85D54A" fill-opacity="0.7"/>
<circle cx="614.3" cy="83.4" r="1.3" fill="#85D54A" fill-opacity="0.7"/>
<circle cx="625.2" cy="81.7" r="1.3" fill="#85D54A" fill-opacity="0.7"/>
<circle cx="614.9" cy="89.3" r="1.3" fill="#85D54A" fill-opacity="0.7"/>
<circle cx="618.7" cy="66.3" r="1.3" fill="#85D54A" fill-opacity="0.7"/>
<circle cx="626.3" cy="73.9" r="1.3" fill="#85D54A" fill-opacity="0.7"/>
<circle cx="617.4" cy="75.7" r="1.3" fill="#85D54A" fill-opacity="0.7"/>
<circle cx="625.9" cy="87.5" r="1.3" fill="#85D54A" fill-opacity="0.7"/>
<circle cx="620.1" cy="68.0" r="1.3" fill="#85D54A" fill-opacity="0.7"/>
<circle cx="618.7" cy="66.2" r="1.3" fill="#85D54A" fill-opacity="0.7"/>
<circle cx="613.5" cy="79.7" r="1.3" fill="#85D54A" fill-opacity="0.7"/>
<circle cx="614.6" cy="83.2" r="1.3" fill="#85D54A" fill-opacity="0.7"/>
<circle cx="621.8" cy="70.5" r="1.3" fill="#85D54A" fill-opacity="0.7"/>
<circle cx="613.0" cy="68.5" r="1.3" fill="#85D54A" fill-opacity="0.7"/>
<circle cx="616.5" cy="79.8" r="1.3" fill="#85D54A" fill-opacity="0.7"/>
<circle cx="616.2" cy="77.9" r="1.3" fill="#85D54A" fill-opacity="0.7"/>
<circle cx="616.7" cy="80.0" r="1.3" fill="#85D54A" fill-opacity="0.7"/>
<circle cx="621.2" cy="85.2" r="1.3" fill="#85D54A" fill-opacity="0.7"/>
<circle cx="619.4" cy="73.9" r="1.3" fill="#85D54A" fill-opacity="0.7"/>
<circle cx="614.4" cy="79.5" r="1.3" fill="#85D54A" fill-opacity="0.7"/>
<circle cx="616.1" cy="83.4" r="1.3" fill="#85D54A" fill-opacity="0.7"/>
<circle cx="621.5" cy="89.4" r="1.3" fill="#85D54A" fill-opacity="0.7"/>
<circle cx="623.0" cy="77.6" r="1.3" fill="#85D54A" fill-opacity="0.7"/>
<circle cx="619.4" cy="83.6" r="1.3" fill="#85D54A" fill-opacity="0.7"/>
<circle cx="620.0" cy="81.4" r="1.3" fill="#85D54A" fill-opacity="0.7"/>
<circle cx="617.7" cy="83.2" r="1.3" fill="#85D54A" fill-opacity="0.7"/>
<circle cx="619.7" cy="75.9" r="1.3" fill="#85D54A" fill-opacity="0.7"/>
<circle cx="623.9" cy="87.2" r="1.3" fill="#85D54A" fill-opacity="0.7"/>
<circle cx="619.0" cy="87.5" r="1.3" fill="#85D54A" fill-opacity="0.7"/>
<circle cx="623.3" cy="87.3" r="1.3" fill="#85D54A" fill-opacity="0.7"/>
<circle cx="623.4" cy="87.6" r="1.3" fill="#85D54A" fill-opacity="0.7"/>
<circle cx="622.4" cy="87.2" r="1.3" fill="#85D54A" fill-opacity="0.7"/>
<circle cx="620.1" cy="78.0" r="1.3" fill="#85D54A" fill-opacity="0.7"/>
<circle cx="619.5" cy="78.0" r="1.3" fill="#85D54A" fill-opacity="0.7"/>
<circle cx="619.80" cy="81.20" r="2.0" fill="#000"/>
<path d="M644.37 59.80V71.30M644.37 83.20V98.80M640.57 59.80H648.17M640.57 98.80H648.17" stroke="#C2DF23" stroke-width="1.1" fill="none"/>
<rect x="634.81" y="71.30" width="19.12" height="11.90" fill="#fff" stroke="#C2DF23" stroke-width="1.1"/>
<path d="M634.81 77.20H653.94" stroke="#C2DF23" stroke-width="2.3"/>
<circle cx="644.50" cy="101.50" r="2.1" fill="#F00"/>
<circle cx="638.9" cy="64.7" r="1.3" fill="#C2DF23" fill-opacity="0.7"/>
<circle cx="645.6" cy="72.3" r="1.3" fill="#C2DF23" fill-opacity="0.7"/>
<circle cx="643.2" cy="83.5" r="1.3" fill="#C2DF23" fill-opacity="0.7"/>
<circle cx="642.6" cy="62.7" r="1.3" fill="#C2DF23" fill-opacity="0.7"/>
<circle cx="641.3" cy="79.8" r="1.3" fill="#C2DF23" fill-opacity="0.7"/>
<circle cx="641.8" cy="79.6" r="1.3" fill="#C2DF23" fill-opacity="0.7"/>
<circle cx="643.6" cy="62.6" r="1.3" fill="#C2DF23" fill-opacity="0.7"/>
<circle cx="645.5" cy="85.2" r="1.3" fill="#C2DF23" fill-opacity="0.7"/>
<circle cx="641.8" cy="76.2" r="1.3" fill="#C2DF23" fill-opacity="0.7"/>
<circle cx="640.0" cy="62.9" r="1.3" fill="#C2DF23" fill-opacity="0.7"/>
<circle cx="637.7" cy="83.2" r="1.3" fill="#C2DF23" fill-opacity="0.7"/>
<circle cx="648.4" cy="74.3" r="1.3" fill="#C2DF23" fill-opacity="0.7"/>
<circle cx="644.6" cy="72.1" r="1.3" fill="#C2DF23" fill-opacity="0.7"/>
<circle cx="645.8" cy="73.9" r="1.3" fill="#C2DF23" fill-opacity="0.7"/>
<circle cx="644.7" cy="83.6" r="1.3" fill="#C2DF23" fill-opacity="0.7"/>
<circle cx="645.3" cy="85.3" r="1.3" fill="#C2DF23" fill-opacity="0.7"/>
<circle cx="644.2" cy="72.4" r="1.3" fill="#C2DF23" fill-opacity="0.7"/>
<circle cx="642.1" cy="81.9" r="1.3" fill="#C2DF23" fill-opacity="0.7"/>
<circle cx="641.7" cy="71.9" r="1.3" fill="#C2DF23" fill-opacity="0.7"/>
<circle cx="638.6" cy="62.6" r="1.3" fill="#C2DF23" fill-opacity="0.7"/>
<circle cx="651.6" cy="64.7" r="1.3" fill="#C2DF23" fill-opacity="0.7"/>
<circle cx="641.3" cy="68.1" r="1.3" fill="#C2DF23" fill-opacity="0.7"/>
<circle cx="639.7" cy="73.8" r="1.3" fill="#C2DF23" fill-opacity="0.7"/>
<circle cx="651.6" cy="73.9" r="1.3" fill="#C2DF23" fill-opacity="0.7"/>
<circle cx="648.6" cy="77.7" r="1.3" fill="#C2DF23" fill-opacity="0.7"/>
<circle cx="641.5" cy="81.3" r="1.3" fill="#C2DF23" fill-opacity="0.7"/>
<circle cx="639.9" cy="66.5" r="1.3" fill="#C2DF23" fill-opacity="0.7"/>
<circle cx="646.5" cy="79.6" r="1.3" fill="#C2DF23" fill-opacity="0.7"/>
<circle cx="643.1" cy="72.1" r="1.3" fill="#C2DF23" fill-opacity="0.7"/>
<circle cx="638.6" cy="83.7" r="1.3" fill="#C2DF23" fill-opacity="0.7"/>
<circle cx="649.1" cy="83.5" r="1.3" fill="#C2DF23" fill-opacity="0.7"/>
<circle cx="637.2" cy="71.8" r="1.3" fill="#C2DF23" fill-opacity="0.7"/>
<circle cx="642.2" cy="70.3" r="1.3" fill="#C2DF23" fill-opacity="0.7"/>
<circle cx="650.3" cy="85.2" r="1.3" fill="#C2DF23" fill-opacity="0.7"/>
<circle cx="642.7" cy="75.9" r="1.3" fill="#C2DF23" fill-opacity="0.7"/>
<circle cx="651.1" cy="96.8" r="1.3" fill="#C2DF23" fill-opacity="0.7"/>
<circle cx="637.7" cy="81.4" r="1.3" fill="#C2DF23" fill-opacity="0.7"/>
<circle cx="650.2" cy="62.5" r="1.3" fill="#C2DF23" fill-opacity="0.7"/>
<circle cx="651.1" cy="70.3" r="1.3" fill="#C2DF23" fill-opacity="0.7"/>
<circle cx="642.8" cy="83.3" r="1.3" fill="#C2DF23" fill-opacity="0.7"/>
<circle cx="649.9" cy="75.8" r="1.3" fill="#C2DF23" fill-opacity="0.7"/>
<circle cx="639.6" cy="81.4" r="1.3" fill="#C2DF23" fill-opacity="0.7"/>
<circle cx="641.3" cy="78.1" r="1.3" fill="#C2DF23" fill-opacity="0.7"/>
<circle cx="642.7" cy="75.9" r="1.3" fill="#C2DF23" fill-opacity="0.7"/>
<circle cx="649.2" cy="77.6" r="1.3" fill="#C2DF23" fill-opacity="0.7"/>
<circle cx="641.2" cy="77.6" r="1.3" fill="#C2DF23" fill-opacity="0.7"/>
<circle cx="642.0" cy="83.6" r="1.3" fill="#C2DF23" fill-opacity="0.7"/>
<circle cx="641.0" cy="90.9" r="1.3" fill="#C2DF23" fill-opacity="0.7"/>
<circle cx="649.3" cy="70.2" r="1.3" fill="#C2DF23" fill-opacity="0.7"/>
<circle cx="647.6" cy="70.1" r="1.3" fill="#C2DF23" fill-opacity="0.7"/>
<circle cx="651.0" cy="83.3" r="1.3" fill="#C2DF23" fill-opacity="0.7"/>
<circle cx="638.9" cy="75.9" r="1.3" fill="#C2DF23" fill-opacity="0.7"/>
<circle cx="644.90" cy="77.70" r="2.0" fill="#000"/>
<path d="M668.89 47.80V64.00M668.89 74.00V86.20M665.09 47.80H672.69M665.09 86.20H672.69" stroke="#FDE725" stroke-width="1.1" fill="none"/>
<rect x="659.33" y="64.00" width="19.12" height="10.00" fill="#fff" stroke="#FDE725" stroke-width="1.1"/>
<path d="M659.33 69.00H678.45" stroke="#FDE725" stroke-width="2.3"/>
<circle cx="669.00" cy="92.00" r="2.1" fill="#F00"/>
<circle cx="670.2" cy="68.5" r="1.3" fill="#FDE725" fill-opacity="0.7"/>
<circle cx="664.7" cy="70.3" r="1.3" fill="#FDE725" fill-opacity="0.7"/>
<circle cx="669.5" cy="64.5" r="1.3" fill="#FDE725" fill-opacity="0.7"/>
<circle cx="671.2" cy="72.0" r="1.3" fill="#FDE725" fill-opacity="0.7"/>
<circle cx="662.8" cy="68.2" r="1.3" fill="#FDE725" fill-opacity="0.7"/>
<circle cx="671.3" cy="83.4" r="1.3" fill="#FDE725" fill-opacity="0.7"/>
<circle cx="668.9" cy="77.7" r="1.3" fill="#FDE725" fill-opacity="0.7"/>
<circle cx="664.9" cy="70.1" r="1.3" fill="#FDE725" fill-opacity="0.7"/>
<circle cx="667.5" cy="81.5" r="1.3" fill="#FDE725" fill-opacity="0.7"/>
<circle cx="674.2" cy="53.3" r="1.3" fill="#FDE725" fill-opacity="0.7"/>
<circle cx="671.5" cy="75.6" r="1.3" fill="#FDE725" fill-opacity="0.7"/>
<circle cx="671.2" cy="66.3" r="1.3" fill="#FDE725" fill-opacity="0.7"/>
<circle cx="666.7" cy="68.5" r="1.3" fill="#FDE725" fill-opacity="0.7"/>
<circle cx="675.0" cy="68.1" r="1.3" fill="#FDE725" fill-opacity="0.7"/>
<circle cx="662.1" cy="64.2" r="1.3" fill="#FDE725" fill-opacity="0.7"/>
<circle cx="667.1" cy="73.9" r="1.3" fill="#FDE725" fill-opacity="0.7"/>
<circle cx="664.2" cy="76.0" r="1.3" fill="#FDE725" fill-opacity="0.7"/>
<circle cx="665.3" cy="58.9" r="1.3" fill="#FDE725" fill-opacity="0.7"/>
<circle cx="661.5" cy="72.0" r="1.3" fill="#FDE725" fill-opacity="0.7"/>
<circle cx="662.2" cy="53.0" r="1.3" fill="#FDE725" fill-opacity="0.7"/>
<circle cx="665.1" cy="56.6" r="1.3" fill="#FDE725" fill-opacity="0.7"/>
<circle cx="675.0" cy="81.4" r="1.3" fill="#FDE725" fill-opacity="0.7"/>
<circle cx="667.3" cy="68.4" r="1.3" fill="#FDE725" fill-opacity="0.7"/>
<circle cx="662.9" cy="64.4" r="1.3" fill="#FDE725" fill-opacity="0.7"/>
<circle cx="671.7" cy="61.0" r="1.3" fill="#FDE725" fill-opacity="0.7"/>
<circle cx="668.2" cy="64.6" r="1.3" fill="#FDE725" fill-opacity="0.7"/>
<circle cx="669.1" cy="79.7" r="1.3" fill="#FDE725" fill-opacity="0.7"/>
<circle cx="662.2" cy="64.7" r="1.3" fill="#FDE725" fill-opacity="0.7"/>
<circle cx="669.6" cy="64.4" r="1.3" fill="#FDE725" fill-opacity="0.7"/>
<circle cx="665.2" cy="56.9" r="1.3" fill="#FDE725" fill-opacity="0.7"/>
<circle cx="664.5" cy="75.8" r="1.3" fill="#FDE725" fill-opacity="0.7"/>
<circle cx="671.4" cy="70.3" r="1.3" fill="#FDE725" fill-opacity="0.7"/>
<circle cx="668.1" cy="74.0" r="1.3" fill="#FDE725" fill-opacity="0.7"/>
<circle cx="674.5" cy="60.6" r="1.3" fill="#FDE725" fill-opacity="0.7"/>
<circle cx="673.5" cy="77.7" r="1.3" fill="#FDE725" fill-opacity="0.7"/>
<circle cx="671.3" cy="64.3" r="1.3" fill="#FDE725" fill-opacity="0.7"/>
<circle cx="673.8" cy="66.6" r="1.3" fill="#FDE725" fill-opacity="0.7"/>
<circle cx="664.6" cy="75.8" r="1.3" fill="#FDE725" fill-opacity="0.7"/>
<circle cx="671.9" cy="75.7" r="1.3" fill="#FDE725" fill-opacity="0.7"/>
<circle cx="668.4" cy="70.1" r="1.3" fill="#FDE725" fill-opacity="0.7"/>
<circle cx="661.7" cy="69.9" r="1.3" fill="#FDE725" fill-opacity="0.7"/>
<circle cx="672.1" cy="54.8" r="1.3" fill="#FDE725" fill-opacity="0.7"/>
<circle cx="668.7" cy="58.6" r="1.3" fill="#FDE725" fill-opacity="0.7"/>
<circle cx="661.7" cy="70.2" r="1.3" fill="#FDE725" fill-opacity="0.7"/>
<circle cx="675.3" cy="57.0" r="1.3" fill="#FDE725" fill-opacity="0.7"/>
<circle cx="663.6" cy="68.1" r="1.3" fill="#FDE725" fill-opacity="0.7"/>
<circle cx="665.9" cy="81.8" r="1.3" fill="#FDE725" fill-opacity="0.7"/>
<circle cx="675.2" cy="79.9" r="1.3" fill="#FDE725" fill-opacity="0.7"/>
<circle cx="672.5" cy="81.8" r="1.3" fill="#FDE725" fill-opacity="0.7"/>
<circle cx="666.2" cy="70.4" r="1.3" fill="#FDE725" fill-opacity="0.7"/>
<circle cx="673.8" cy="72.0" r="1.3" fill="#FDE725" fill-opacity="0.7"/>
<circle cx="670.8" cy="74.0" r="1.3" fill="#FDE725" fill-opacity="0.7"/>
<circle cx="669.00" cy="69.40" r="2.0" fill="#000"/>
<path d="M55.95 244.80V259.60M55.95 280.60V294.00M52.30 244.80H59.61M52.30 294.00H59.61" stroke="#440154" stroke-width="1.1" fill="none"/>
<rect x="46.75" y="259.60" width="18.40" height="21.00" fill="#fff" stroke="#440154" stroke-width="1.1"/>
<path d="M46.75 272.00H65.15" stroke="#440154" stroke-width="2.3"/>
<circle cx="55.40" cy="222.20" r="2.3" fill="#F00"/>
<circle cx="55.4" cy="222.2" r="1.95" fill="#440154" fill-opacity="0.8"/>
<circle cx="53.9" cy="266.1" r="1.95" fill="#440154" fill-opacity="0.8"/>
<circle cx="58.4" cy="274.3" r="1.95" fill="#440154" fill-opacity="0.8"/>
<circle cx="54.3" cy="277.8" r="1.95" fill="#440154" fill-opacity="0.8"/>
<circle cx="57.4" cy="280.5" r="1.95" fill="#440154" fill-opacity="0.8"/>
<circle cx="55.3" cy="291.9" r="1.95" fill="#440154" fill-opacity="0.8"/>
<circle cx="58.0" cy="286.7" r="1.95" fill="#440154" fill-opacity="0.8"/>
<circle cx="59.2" cy="244.8" r="1.95" fill="#440154" fill-opacity="0.8"/>
<circle cx="57.8" cy="254.8" r="1.95" fill="#440154" fill-opacity="0.8"/>
<circle cx="55.0" cy="258.6" r="1.95" fill="#440154" fill-opacity="0.8"/>
<circle cx="53.2" cy="264.2" r="1.95" fill="#440154" fill-opacity="0.8"/>
<circle cx="60.2" cy="273.1" r="1.95" fill="#440154" fill-opacity="0.8"/>
<circle cx="55.4" cy="275.8" r="1.95" fill="#440154" fill-opacity="0.8"/>
<circle cx="57.8" cy="278.2" r="1.95" fill="#440154" fill-opacity="0.8"/>
<circle cx="51.3" cy="281.3" r="1.95" fill="#440154" fill-opacity="0.8"/>
<circle cx="57.8" cy="286.6" r="1.95" fill="#440154" fill-opacity="0.8"/>
<circle cx="51.3" cy="289.3" r="1.95" fill="#440154" fill-opacity="0.8"/>
<circle cx="59.1" cy="294.0" r="1.95" fill="#440154" fill-opacity="0.8"/>
<circle cx="55.40" cy="269.40" r="1.55" fill="#000"/>
<path d="M79.54 234.60V262.00M79.54 281.90V299.20M75.89 234.60H83.20M75.89 299.20H83.20" stroke="#482173" stroke-width="1.1" fill="none"/>
<rect x="70.34" y="262.00" width="18.40" height="19.90" fill="#fff" stroke="#482173" stroke-width="1.1"/>
<path d="M70.34 267.00H88.74" stroke="#482173" stroke-width="2.3"/>
<circle cx="79.0" cy="263.0" r="1.95" fill="#482173" fill-opacity="0.8"/>
<circle cx="77.0" cy="281.5" r="1.95" fill="#482173" fill-opacity="0.8"/>
<circle cx="81.1" cy="260.9" r="1.95" fill="#482173" fill-opacity="0.8"/>
<circle cx="81.2" cy="234.6" r="1.95" fill="#482173" fill-opacity="0.8"/>
<circle cx="77.7" cy="247.1" r="1.95" fill="#482173" fill-opacity="0.8"/>
<circle cx="83.2" cy="255.7" r="1.95" fill="#482173" fill-opacity="0.8"/>
<circle cx="80.2" cy="258.6" r="1.95" fill="#482173" fill-opacity="0.8"/>
<circle cx="81.1" cy="262.3" r="1.95" fill="#482173" fill-opacity="0.8"/>
<circle cx="82.0" cy="273.5" r="1.95" fill="#482173" fill-opacity="0.8"/>
<circle cx="80.2" cy="276.3" r="1.95" fill="#482173" fill-opacity="0.8"/>
<circle cx="75.5" cy="282.8" r="1.95" fill="#482173" fill-opacity="0.8"/>
<circle cx="80.2" cy="284.7" r="1.95" fill="#482173" fill-opacity="0.8"/>
<circle cx="82.0" cy="284.7" r="1.95" fill="#482173" fill-opacity="0.8"/>
<circle cx="80.2" cy="287.5" r="1.95" fill="#482173" fill-opacity="0.8"/>
<circle cx="79.20" cy="268.90" r="1.55" fill="#000"/>
<path d="M103.13 249.30V253.40M103.13 266.40V274.10M99.48 249.30H106.79M99.48 274.10H106.79" stroke="#433E85" stroke-width="1.1" fill="none"/>
<rect x="93.93" y="253.40" width="18.40" height="13.00" fill="#fff" stroke="#433E85" stroke-width="1.1"/>
<path d="M93.93 257.10H112.33" stroke="#433E85" stroke-width="2.3"/>
<circle cx="103.00" cy="218.20" r="2.3" fill="#F00"/>
<circle cx="103.00" cy="285.80" r="2.3" fill="#F00"/>
<circle cx="99.5" cy="248.6" r="1.95" fill="#433E85" fill-opacity="0.8"/>
<circle cx="102.8" cy="249.5" r="1.95" fill="#433E85" fill-opacity="0.8"/>
<circle cx="101.7" cy="251.6" r="1.95" fill="#433E85" fill-opacity="0.8"/>
<circle cx="104.9" cy="252.2" r="1.95" fill="#433E85" fill-opacity="0.8"/>
<circle cx="107.6" cy="218.2" r="1.95" fill="#433E85" fill-opacity="0.8"/>
<circle cx="100.2" cy="249.7" r="1.95" fill="#433E85" fill-opacity="0.8"/>
<circle cx="104.9" cy="250.2" r="1.95" fill="#433E85" fill-opacity="0.8"/>
<circle cx="104.5" cy="260.9" r="1.95" fill="#433E85" fill-opacity="0.8"/>
<circle cx="105.8" cy="263.8" r="1.95" fill="#433E85" fill-opacity="0.8"/>
<circle cx="98.4" cy="269.4" r="1.95" fill="#433E85" fill-opacity="0.8"/>
<circle cx="107.1" cy="274.1" r="1.95" fill="#433E85" fill-opacity="0.8"/>
<circle cx="104.0" cy="285.8" r="1.95" fill="#433E85" fill-opacity="0.8"/>
<circle cx="103.00" cy="258.60" r="1.55" fill="#000"/>
<path d="M126.72 239.80V255.50M126.72 266.10V268.90M123.07 239.80H130.38M123.07 268.90H130.38" stroke="#38598C" stroke-width="1.1" fill="none"/>
<rect x="117.52" y="255.50" width="18.40" height="10.60" fill="#fff" stroke="#38598C" stroke-width="1.1"/>
<path d="M117.52 257.70H135.92" stroke="#38598C" stroke-width="2.3"/>
<circle cx="126.30" cy="201.30" r="2.3" fill="#F00"/>
<circle cx="126.30" cy="224.90" r="2.3" fill="#F00"/>
<circle cx="126.30" cy="285.60" r="2.3" fill="#F00"/>
<circle cx="126.30" cy="296.80" r="2.3" fill="#F00"/>
<circle cx="126.4" cy="255.1" r="1.95" fill="#38598C" fill-opacity="0.8"/>
<circle cx="124.3" cy="262.6" r="1.95" fill="#38598C" fill-opacity="0.8"/>
<circle cx="128.6" cy="262.6" r="1.95" fill="#38598C" fill-opacity="0.8"/>
<circle cx="127.5" cy="268.0" r="1.95" fill="#38598C" fill-opacity="0.8"/>
<circle cx="124.1" cy="201.3" r="1.95" fill="#38598C" fill-opacity="0.8"/>
<circle cx="126.3" cy="224.9" r="1.95" fill="#38598C" fill-opacity="0.8"/>
<circle cx="122.4" cy="239.6" r="1.95" fill="#38598C" fill-opacity="0.8"/>
<circle cx="125.4" cy="262.3" r="1.95" fill="#38598C" fill-opacity="0.8"/>
<circle cx="130.0" cy="262.3" r="1.95" fill="#38598C" fill-opacity="0.8"/>
<circle cx="127.2" cy="268.9" r="1.95" fill="#38598C" fill-opacity="0.8"/>
<circle cx="130.0" cy="268.0" r="1.95" fill="#38598C" fill-opacity="0.8"/>
<circle cx="128.2" cy="289.3" r="1.95" fill="#38598C" fill-opacity="0.8"/>
<circle cx="129.1" cy="296.8" r="1.95" fill="#38598C" fill-opacity="0.8"/>
<circle cx="124.5" cy="285.6" r="1.95" fill="#38598C" fill-opacity="0.8"/>
<circle cx="126.70" cy="258.60" r="1.55" fill="#000"/>
<path d="M150.31 232.60V250.70M150.31 280.70V295.00M146.66 232.60H153.97M146.66 295.00H153.97" stroke="#2D708E" stroke-width="1.1" fill="none"/>
<rect x="141.11" y="250.70" width="18.40" height="30.00" fill="#fff" stroke="#2D708E" stroke-width="1.1"/>
<path d="M141.11 259.40H159.51" stroke="#2D708E" stroke-width="2.3"/>
<circle cx="153.0" cy="246.5" r="1.95" fill="#2D708E" fill-opacity="0.8"/>
<circle cx="154.1" cy="252.5" r="1.95" fill="#2D708E" fill-opacity="0.8"/>
<circle cx="149.9" cy="231.7" r="1.95" fill="#2D708E" fill-opacity="0.8"/>
<circle cx="148.3" cy="237.6" r="1.95" fill="#2D708E" fill-opacity="0.8"/>
<circle cx="155.0" cy="244.3" r="1.95" fill="#2D708E" fill-opacity="0.8"/>
<circle cx="154.0" cy="245.2" r="1.95" fill="#2D708E" fill-opacity="0.8"/>
<circle cx="152.9" cy="247.9" r="1.95" fill="#2D708E" fill-opacity="0.8"/>
<circle cx="155.2" cy="256.0" r="1.95" fill="#2D708E" fill-opacity="0.8"/>
<circle cx="148.3" cy="273.2" r="1.95" fill="#2D708E" fill-opacity="0.8"/>
<circle cx="152.9" cy="281.2" r="1.95" fill="#2D708E" fill-opacity="0.8"/>
<circle cx="152.9" cy="286.9" r="1.95" fill="#2D708E" fill-opacity="0.8"/>
<circle cx="148.3" cy="295.0" r="1.95" fill="#2D708E" fill-opacity="0.8"/>
<circle cx="155.2" cy="295.6" r="1.95" fill="#2D708E" fill-opacity="0.8"/>
<circle cx="150.60" cy="264.40" r="1.55" fill="#000"/>
<path d="M173.90 231.40V254.40M173.90 275.90V294.30M170.25 231.40H177.56M170.25 294.30H177.56" stroke="#25858E" stroke-width="1.1" fill="none"/>
<rect x="164.70" y="254.40" width="18.40" height="21.50" fill="#fff" stroke="#25858E" stroke-width="1.1"/>
<path d="M164.70 263.50H183.11" stroke="#25858E" stroke-width="2.3"/>
<circle cx="173.80" cy="188.40" r="2.3" fill="#F00"/>
<circle cx="173.80" cy="211.80" r="2.3" fill="#F00"/>
<circle cx="173.5" cy="250.8" r="1.95" fill="#25858E" fill-opacity="0.8"/>
<circle cx="170.3" cy="278.8" r="1.95" fill="#25858E" fill-opacity="0.8"/>
<circle cx="177.8" cy="289.5" r="1.95" fill="#25858E" fill-opacity="0.8"/>
<circle cx="172.4" cy="294.2" r="1.95" fill="#25858E" fill-opacity="0.8"/>
<circle cx="176.9" cy="188.4" r="1.95" fill="#25858E" fill-opacity="0.8"/>
<circle cx="173.8" cy="211.8" r="1.95" fill="#25858E" fill-opacity="0.8"/>
<circle cx="169.7" cy="231.4" r="1.95" fill="#25858E" fill-opacity="0.8"/>
<circle cx="172.4" cy="249.1" r="1.95" fill="#25858E" fill-opacity="0.8"/>
<circle cx="171.3" cy="256.7" r="1.95" fill="#25858E" fill-opacity="0.8"/>
<circle cx="172.4" cy="267.4" r="1.95" fill="#25858E" fill-opacity="0.8"/>
<circle cx="171.9" cy="271.3" r="1.95" fill="#25858E" fill-opacity="0.8"/>
<circle cx="179.3" cy="275.0" r="1.95" fill="#25858E" fill-opacity="0.8"/>
<circle cx="171.9" cy="280.0" r="1.95" fill="#25858E" fill-opacity="0.8"/>
<circle cx="174.7" cy="285.8" r="1.95" fill="#25858E" fill-opacity="0.8"/>
<circle cx="173.6" cy="289.7" r="1.95" fill="#25858E" fill-opacity="0.8"/>
<circle cx="178.1" cy="293.8" r="1.95" fill="#25858E" fill-opacity="0.8"/>
<circle cx="171.3" cy="292.7" r="1.95" fill="#25858E" fill-opacity="0.8"/>
<circle cx="174.20" cy="260.60" r="1.55" fill="#000"/>
<path d="M197.50 231.40V252.50M197.50 278.90V295.00M193.84 231.40H201.15M193.84 295.00H201.15" stroke="#1E9B8A" stroke-width="1.1" fill="none"/>
<rect x="188.29" y="252.50" width="18.40" height="26.40" fill="#fff" stroke="#1E9B8A" stroke-width="1.1"/>
<path d="M188.29 272.70H206.70" stroke="#1E9B8A" stroke-width="2.3"/>
<circle cx="201.5" cy="231.4" r="1.95" fill="#1E9B8A" fill-opacity="0.8"/>
<circle cx="199.9" cy="236.9" r="1.95" fill="#1E9B8A" fill-opacity="0.8"/>
<circle cx="200.6" cy="245.2" r="1.95" fill="#1E9B8A" fill-opacity="0.8"/>
<circle cx="194.6" cy="252.1" r="1.95" fill="#1E9B8A" fill-opacity="0.8"/>
<circle cx="199.2" cy="260.6" r="1.95" fill="#1E9B8A" fill-opacity="0.8"/>
<circle cx="196.5" cy="262.2" r="1.95" fill="#1E9B8A" fill-opacity="0.8"/>
<circle cx="198.8" cy="274.3" r="1.95" fill="#1E9B8A" fill-opacity="0.8"/>
<circle cx="194.2" cy="278.9" r="1.95" fill="#1E9B8A" fill-opacity="0.8"/>
<circle cx="199.9" cy="283.5" r="1.95" fill="#1E9B8A" fill-opacity="0.8"/>
<circle cx="196.5" cy="293.8" r="1.95" fill="#1E9B8A" fill-opacity="0.8"/>
<circle cx="199.9" cy="295.0" r="1.95" fill="#1E9B8A" fill-opacity="0.8"/>
<circle cx="197.60" cy="267.40" r="1.55" fill="#000"/>
<path d="M221.09 238.80V267.40M221.09 288.80V295.00M217.43 238.80H224.74M217.43 295.00H224.74" stroke="#2BB07F" stroke-width="1.1" fill="none"/>
<rect x="211.89" y="267.40" width="18.40" height="21.40" fill="#fff" stroke="#2BB07F" stroke-width="1.1"/>
<path d="M211.89 280.70H230.29" stroke="#2BB07F" stroke-width="2.3"/>
<circle cx="218.0" cy="268.5" r="1.95" fill="#2BB07F" fill-opacity="0.8"/>
<circle cx="221.0" cy="271.0" r="1.95" fill="#2BB07F" fill-opacity="0.8"/>
<circle cx="216.5" cy="276.0" r="1.95" fill="#2BB07F" fill-opacity="0.8"/>
<circle cx="219.5" cy="290.0" r="1.95" fill="#2BB07F" fill-opacity="0.8"/>
<circle cx="222.0" cy="293.0" r="1.95" fill="#2BB07F" fill-opacity="0.8"/>
<circle cx="217.5" cy="296.0" r="1.95" fill="#2BB07F" fill-opacity="0.8"/>
<circle cx="225.8" cy="238.8" r="1.95" fill="#2BB07F" fill-opacity="0.8"/>
<circle cx="219.4" cy="249.1" r="1.95" fill="#2BB07F" fill-opacity="0.8"/>
<circle cx="219.4" cy="255.3" r="1.95" fill="#2BB07F" fill-opacity="0.8"/>
<circle cx="220.6" cy="261.7" r="1.95" fill="#2BB07F" fill-opacity="0.8"/>
<circle cx="221.7" cy="269.7" r="1.95" fill="#2BB07F" fill-opacity="0.8"/>
<circle cx="217.1" cy="272.0" r="1.95" fill="#2BB07F" fill-opacity="0.8"/>
<circle cx="219.4" cy="278.9" r="1.95" fill="#2BB07F" fill-opacity="0.8"/>
<circle cx="217.1" cy="285.1" r="1.95" fill="#2BB07F" fill-opacity="0.8"/>
<circle cx="221.2" cy="286.9" r="1.95" fill="#2BB07F" fill-opacity="0.8"/>
<circle cx="219.4" cy="292.7" r="1.95" fill="#2BB07F" fill-opacity="0.8"/>
<circle cx="221.7" cy="295.0" r="1.95" fill="#2BB07F" fill-opacity="0.8"/>
<circle cx="220.60" cy="275.90" r="1.55" fill="#000"/>
<path d="M244.68 248.40V271.70M244.68 289.30V296.80M241.02 248.40H248.33M241.02 296.80H248.33" stroke="#51C56A" stroke-width="1.1" fill="none"/>
<rect x="235.48" y="271.70" width="18.40" height="17.60" fill="#fff" stroke="#51C56A" stroke-width="1.1"/>
<path d="M235.48 285.60H253.88" stroke="#51C56A" stroke-width="2.3"/>
<circle cx="244.50" cy="196.00" r="2.3" fill="#F00"/>
<circle cx="244.50" cy="231.00" r="2.3" fill="#F00"/>
<circle cx="242.9" cy="196.0" r="1.95" fill="#51C56A" fill-opacity="0.8"/>
<circle cx="241.6" cy="231.0" r="1.95" fill="#51C56A" fill-opacity="0.8"/>
<circle cx="240.9" cy="268.9" r="1.95" fill="#51C56A" fill-opacity="0.8"/>
<circle cx="242.2" cy="283.8" r="1.95" fill="#51C56A" fill-opacity="0.8"/>
<circle cx="247.8" cy="283.2" r="1.95" fill="#51C56A" fill-opacity="0.8"/>
<circle cx="242.2" cy="285.6" r="1.95" fill="#51C56A" fill-opacity="0.8"/>
<circle cx="248.8" cy="287.5" r="1.95" fill="#51C56A" fill-opacity="0.8"/>
<circle cx="248.8" cy="290.3" r="1.95" fill="#51C56A" fill-opacity="0.8"/>
<circle cx="246.0" cy="291.2" r="1.95" fill="#51C56A" fill-opacity="0.8"/>
<circle cx="241.3" cy="294.0" r="1.95" fill="#51C56A" fill-opacity="0.8"/>
<circle cx="242.2" cy="296.8" r="1.95" fill="#51C56A" fill-opacity="0.8"/>
<circle cx="244.70" cy="275.00" r="1.55" fill="#000"/>
<path d="M268.27 234.60V265.70M268.27 290.60V295.70M264.61 234.60H271.92M264.61 295.70H271.92" stroke="#85D54A" stroke-width="1.1" fill="none"/>
<rect x="259.07" y="265.70" width="18.40" height="24.90" fill="#fff" stroke="#85D54A" stroke-width="1.1"/>
<path d="M259.07 279.10H277.47" stroke="#85D54A" stroke-width="2.3"/>
<circle cx="268.6" cy="234.6" r="1.95" fill="#85D54A" fill-opacity="0.8"/>
<circle cx="265.5" cy="245.2" r="1.95" fill="#85D54A" fill-opacity="0.8"/>
<circle cx="267.0" cy="249.7" r="1.95" fill="#85D54A" fill-opacity="0.8"/>
<circle cx="264.0" cy="252.7" r="1.95" fill="#85D54A" fill-opacity="0.8"/>
<circle cx="266.0" cy="252.4" r="1.95" fill="#85D54A" fill-opacity="0.8"/>
<circle cx="267.6" cy="265.7" r="1.95" fill="#85D54A" fill-opacity="0.8"/>
<circle cx="272.3" cy="265.7" r="1.95" fill="#85D54A" fill-opacity="0.8"/>
<circle cx="270.0" cy="272.0" r="1.95" fill="#85D54A" fill-opacity="0.8"/>
<circle cx="265.2" cy="274.4" r="1.95" fill="#85D54A" fill-opacity="0.8"/>
<circle cx="270.7" cy="281.5" r="1.95" fill="#85D54A" fill-opacity="0.8"/>
<circle cx="270.7" cy="287.8" r="1.95" fill="#85D54A" fill-opacity="0.8"/>
<circle cx="270.0" cy="291.7" r="1.95" fill="#85D54A" fill-opacity="0.8"/>
<circle cx="268.4" cy="294.1" r="1.95" fill="#85D54A" fill-opacity="0.8"/>
<circle cx="272.3" cy="293.3" r="1.95" fill="#85D54A" fill-opacity="0.8"/>
<circle cx="268.40" cy="275.20" r="1.55" fill="#000"/>
<path d="M291.86 213.70V242.60M291.86 285.40V294.40M288.20 213.70H295.51M288.20 294.40H295.51" stroke="#C2DF23" stroke-width="1.1" fill="none"/>
<rect x="282.66" y="242.60" width="18.40" height="42.80" fill="#fff" stroke="#C2DF23" stroke-width="1.1"/>
<path d="M282.66 269.90H301.06" stroke="#C2DF23" stroke-width="2.3"/>
<circle cx="293.8" cy="213.7" r="1.95" fill="#C2DF23" fill-opacity="0.8"/>
<circle cx="293.0" cy="220.0" r="1.95" fill="#C2DF23" fill-opacity="0.8"/>
<circle cx="289.4" cy="225.4" r="1.95" fill="#C2DF23" fill-opacity="0.8"/>
<circle cx="293.0" cy="232.2" r="1.95" fill="#C2DF23" fill-opacity="0.8"/>
<circle cx="295.7" cy="239.9" r="1.95" fill="#C2DF23" fill-opacity="0.8"/>
<circle cx="287.5" cy="248.6" r="1.95" fill="#C2DF23" fill-opacity="0.8"/>
<circle cx="288.4" cy="256.8" r="1.95" fill="#C2DF23" fill-opacity="0.8"/>
<circle cx="294.9" cy="264.4" r="1.95" fill="#C2DF23" fill-opacity="0.8"/>
<circle cx="290.3" cy="271.8" r="1.95" fill="#C2DF23" fill-opacity="0.8"/>
<circle cx="295.7" cy="278.0" r="1.95" fill="#C2DF23" fill-opacity="0.8"/>
<circle cx="288.9" cy="286.2" r="1.95" fill="#C2DF23" fill-opacity="0.8"/>
<circle cx="292.2" cy="289.5" r="1.95" fill="#C2DF23" fill-opacity="0.8"/>
<circle cx="290.3" cy="292.7" r="1.95" fill="#C2DF23" fill-opacity="0.8"/>
<circle cx="292.20" cy="261.70" r="1.55" fill="#000"/>
<path d="M315.45 230.10V258.10M315.45 279.10V294.90M311.79 230.10H319.10M311.79 294.90H319.10" stroke="#FDE725" stroke-width="1.1" fill="none"/>
<rect x="306.25" y="258.10" width="18.40" height="21.00" fill="#fff" stroke="#FDE725" stroke-width="1.1"/>
<path d="M306.25 264.40H324.65" stroke="#FDE725" stroke-width="2.3"/>
<circle cx="315.6" cy="230.1" r="1.95" fill="#FDE725" fill-opacity="0.8"/>
<circle cx="317.5" cy="241.8" r="1.95" fill="#FDE725" fill-opacity="0.8"/>
<circle cx="318.3" cy="250.0" r="1.95" fill="#FDE725" fill-opacity="0.8"/>
<circle cx="312.1" cy="259.5" r="1.95" fill="#FDE725" fill-opacity="0.8"/>
<circle cx="318.3" cy="270.4" r="1.95" fill="#FDE725" fill-opacity="0.8"/>
<circle cx="313.4" cy="276.4" r="1.95" fill="#FDE725" fill-opacity="0.8"/>
<circle cx="315.6" cy="284.0" r="1.95" fill="#FDE725" fill-opacity="0.8"/>
<circle cx="318.9" cy="290.8" r="1.95" fill="#FDE725" fill-opacity="0.8"/>
<circle cx="315.60" cy="267.10" r="1.55" fill="#000"/>
<path d="M407.77 275.40V282.20M407.77 294.80V302.40M404.09 275.40H411.46M404.09 302.40H411.46" stroke="#440154" stroke-width="1.1" fill="none"/>
<rect x="398.50" y="282.20" width="18.55" height="12.60" fill="#fff" stroke="#440154" stroke-width="1.1"/>
<path d="M398.50 287.00H417.05" stroke="#440154" stroke-width="2.3"/>
<circle cx="407.30" cy="239.30" r="2.3" fill="#F00"/>
<circle cx="407.3" cy="239.3" r="1.95" fill="#440154" fill-opacity="0.8"/>
<circle cx="402.0" cy="277.8" r="1.95" fill="#440154" fill-opacity="0.8"/>
<circle cx="403.5" cy="275.4" r="1.95" fill="#440154" fill-opacity="0.8"/>
<circle cx="413.7" cy="287.0" r="1.95" fill="#440154" fill-opacity="0.8"/>
<circle cx="406.0" cy="291.9" r="1.95" fill="#440154" fill-opacity="0.8"/>
<circle cx="414.5" cy="293.9" r="1.95" fill="#440154" fill-opacity="0.8"/>
<circle cx="402.5" cy="297.3" r="1.95" fill="#440154" fill-opacity="0.8"/>
<circle cx="408.6" cy="299.2" r="1.95" fill="#440154" fill-opacity="0.8"/>
<circle cx="405.7" cy="302.4" r="1.95" fill="#440154" fill-opacity="0.8"/>
<circle cx="407.9" cy="301.7" r="1.95" fill="#440154" fill-opacity="0.8"/>
<circle cx="407.50" cy="285.10" r="1.95" fill="#000"/>
<path d="M431.56 283.50V286.40M431.56 293.20V302.70M427.87 283.50H435.25M427.87 302.70H435.25" stroke="#482173" stroke-width="1.1" fill="none"/>
<rect x="422.28" y="286.40" width="18.55" height="6.80" fill="#fff" stroke="#482173" stroke-width="1.1"/>
<path d="M422.28 291.20H440.84" stroke="#482173" stroke-width="2.3"/>
<circle cx="431.70" cy="274.60" r="2.3" fill="#F00"/>
<circle cx="425.0" cy="291.6" r="1.95" fill="#482173" fill-opacity="0.8"/>
<circle cx="429.0" cy="292.0" r="1.95" fill="#482173" fill-opacity="0.8"/>
<circle cx="434.0" cy="292.3" r="1.95" fill="#482173" fill-opacity="0.8"/>
<circle cx="437.5" cy="291.8" r="1.95" fill="#482173" fill-opacity="0.8"/>
<circle cx="431.7" cy="274.6" r="1.95" fill="#482173" fill-opacity="0.8"/>
<circle cx="434.6" cy="283.4" r="1.95" fill="#482173" fill-opacity="0.8"/>
<circle cx="437.9" cy="284.9" r="1.95" fill="#482173" fill-opacity="0.8"/>
<circle cx="424.7" cy="288.9" r="1.95" fill="#482173" fill-opacity="0.8"/>
<circle cx="437.9" cy="293.3" r="1.95" fill="#482173" fill-opacity="0.8"/>
<circle cx="424.7" cy="302.7" r="1.95" fill="#482173" fill-opacity="0.8"/>
<circle cx="436.4" cy="300.6" r="1.95" fill="#482173" fill-opacity="0.8"/>
<circle cx="431.10" cy="290.00" r="1.95" fill="#000"/>
<path d="M455.35 262.20V275.30M455.35 292.10V299.90M451.66 262.20H459.03M451.66 299.90H459.03" stroke="#433E85" stroke-width="1.1" fill="none"/>
<rect x="446.07" y="275.30" width="18.55" height="16.80" fill="#fff" stroke="#433E85" stroke-width="1.1"/>
<path d="M446.07 285.50H464.62" stroke="#433E85" stroke-width="2.3"/>
<circle cx="455.30" cy="223.10" r="2.3" fill="#F00"/>
<circle cx="452.5" cy="223.1" r="1.95" fill="#433E85" fill-opacity="0.8"/>
<circle cx="448.5" cy="262.2" r="1.95" fill="#433E85" fill-opacity="0.8"/>
<circle cx="452.9" cy="281.2" r="1.95" fill="#433E85" fill-opacity="0.8"/>
<circle cx="458.3" cy="275.3" r="1.95" fill="#433E85" fill-opacity="0.8"/>
<circle cx="451.8" cy="287.3" r="1.95" fill="#433E85" fill-opacity="0.8"/>
<circle cx="459.4" cy="287.3" r="1.95" fill="#433E85" fill-opacity="0.8"/>
<circle cx="452.9" cy="292.7" r="1.95" fill="#433E85" fill-opacity="0.8"/>
<circle cx="448.5" cy="299.9" r="1.95" fill="#433E85" fill-opacity="0.8"/>
<circle cx="459.4" cy="299.3" r="1.95" fill="#433E85" fill-opacity="0.8"/>
<circle cx="455.50" cy="280.30" r="1.95" fill="#000"/>
<path d="M479.13 241.50V250.30M479.13 289.00V305.80M475.45 241.50H482.82M475.45 305.80H482.82" stroke="#38598C" stroke-width="1.1" fill="none"/>
<rect x="469.86" y="250.30" width="18.55" height="38.70" fill="#fff" stroke="#38598C" stroke-width="1.1"/>
<path d="M469.86 255.70H488.41" stroke="#38598C" stroke-width="2.3"/>
<circle cx="473.6" cy="241.1" r="1.95" fill="#38598C" fill-opacity="0.8"/>
<circle cx="480.1" cy="244.8" r="1.95" fill="#38598C" fill-opacity="0.8"/>
<circle cx="474.2" cy="251.3" r="1.95" fill="#38598C" fill-opacity="0.8"/>
<circle cx="481.2" cy="251.3" r="1.95" fill="#38598C" fill-opacity="0.8"/>
<circle cx="474.7" cy="288.4" r="1.95" fill="#38598C" fill-opacity="0.8"/>
<circle cx="473.6" cy="291.2" r="1.95" fill="#38598C" fill-opacity="0.8"/>
<circle cx="479.00" cy="267.70" r="1.95" fill="#000"/>
<path d="M502.92 224.70V241.90M502.92 260.20V266.60M499.23 224.70H506.61M499.23 266.60H506.61" stroke="#2D708E" stroke-width="1.1" fill="none"/>
<rect x="493.64" y="241.90" width="18.55" height="18.30" fill="#fff" stroke="#2D708E" stroke-width="1.1"/>
<path d="M493.64 252.00H512.20" stroke="#2D708E" stroke-width="2.3"/>
<circle cx="502.60" cy="192.80" r="2.3" fill="#F00"/>
<circle cx="499.4" cy="192.8" r="1.95" fill="#2D708E" fill-opacity="0.8"/>
<circle cx="497.6" cy="236.5" r="1.95" fill="#2D708E" fill-opacity="0.8"/>
<circle cx="503.0" cy="243.4" r="1.95" fill="#2D708E" fill-opacity="0.8"/>
<circle cx="508.8" cy="249.0" r="1.95" fill="#2D708E" fill-opacity="0.8"/>
<circle cx="498.7" cy="251.1" r="1.95" fill="#2D708E" fill-opacity="0.8"/>
<circle cx="499.3" cy="255.9" r="1.95" fill="#2D708E" fill-opacity="0.8"/>
<circle cx="507.3" cy="257.6" r="1.95" fill="#2D708E" fill-opacity="0.8"/>
<circle cx="496.5" cy="258.0" r="1.95" fill="#2D708E" fill-opacity="0.8"/>
<circle cx="497.2" cy="264.9" r="1.95" fill="#2D708E" fill-opacity="0.8"/>
<circle cx="497.2" cy="267.0" r="1.95" fill="#2D708E" fill-opacity="0.8"/>
<circle cx="508.8" cy="265.5" r="1.95" fill="#2D708E" fill-opacity="0.8"/>
<circle cx="503.00" cy="247.30" r="1.95" fill="#000"/>
<path d="M526.71 222.50V247.30M526.71 274.80V288.10M523.02 222.50H530.39M523.02 288.10H530.39" stroke="#25858E" stroke-width="1.1" fill="none"/>
<rect x="517.43" y="247.30" width="18.55" height="27.50" fill="#fff" stroke="#25858E" stroke-width="1.1"/>
<path d="M517.43 256.30H535.98" stroke="#25858E" stroke-width="2.3"/>
<circle cx="524.5" cy="222.5" r="1.95" fill="#25858E" fill-opacity="0.8"/>
<circle cx="533.7" cy="241.9" r="1.95" fill="#25858E" fill-opacity="0.8"/>
<circle cx="530.9" cy="248.3" r="1.95" fill="#25858E" fill-opacity="0.8"/>
<circle cx="528.8" cy="251.6" r="1.95" fill="#25858E" fill-opacity="0.8"/>
<circle cx="521.3" cy="259.1" r="1.95" fill="#25858E" fill-opacity="0.8"/>
<circle cx="522.3" cy="267.7" r="1.95" fill="#25858E" fill-opacity="0.8"/>
<circle cx="520.8" cy="275.2" r="1.95" fill="#25858E" fill-opacity="0.8"/>
<circle cx="526.6" cy="284.9" r="1.95" fill="#25858E" fill-opacity="0.8"/>
<circle cx="534.2" cy="288.1" r="1.95" fill="#25858E" fill-opacity="0.8"/>
<circle cx="526.60" cy="259.10" r="1.95" fill="#000"/>
<path d="M550.49 228.90V251.10M550.49 280.40V294.30M546.81 228.90H554.18M546.81 294.30H554.18" stroke="#1E9B8A" stroke-width="1.1" fill="none"/>
<rect x="541.22" y="251.10" width="18.55" height="29.30" fill="#fff" stroke="#1E9B8A" stroke-width="1.1"/>
<path d="M541.22 271.60H559.77" stroke="#1E9B8A" stroke-width="2.3"/>
<circle cx="548.7" cy="228.9" r="1.95" fill="#1E9B8A" fill-opacity="0.8"/>
<circle cx="546.8" cy="237.4" r="1.95" fill="#1E9B8A" fill-opacity="0.8"/>
<circle cx="555.3" cy="249.1" r="1.95" fill="#1E9B8A" fill-opacity="0.8"/>
<circle cx="544.3" cy="256.0" r="1.95" fill="#1E9B8A" fill-opacity="0.8"/>
<circle cx="552.9" cy="258.4" r="1.95" fill="#1E9B8A" fill-opacity="0.8"/>
<circle cx="544.3" cy="271.6" r="1.95" fill="#1E9B8A" fill-opacity="0.8"/>
<circle cx="556.5" cy="280.4" r="1.95" fill="#1E9B8A" fill-opacity="0.8"/>
<circle cx="548.0" cy="286.2" r="1.95" fill="#1E9B8A" fill-opacity="0.8"/>
<circle cx="552.1" cy="293.5" r="1.95" fill="#1E9B8A" fill-opacity="0.8"/>
<circle cx="550.90" cy="265.70" r="1.95" fill="#000"/>
<path d="M574.28 247.90V267.40M574.28 288.70V298.40M570.59 247.90H577.97M570.59 298.40H577.97" stroke="#2BB07F" stroke-width="1.1" fill="none"/>
<rect x="565.00" y="267.40" width="18.55" height="21.30" fill="#fff" stroke="#2BB07F" stroke-width="1.1"/>
<path d="M565.00 273.00H583.56" stroke="#2BB07F" stroke-width="2.3"/>
<circle cx="568.7" cy="247.9" r="1.95" fill="#2BB07F" fill-opacity="0.8"/>
<circle cx="579.7" cy="254.0" r="1.95" fill="#2BB07F" fill-opacity="0.8"/>
<circle cx="579.7" cy="261.8" r="1.95" fill="#2BB07F" fill-opacity="0.8"/>
<circle cx="568.7" cy="273.5" r="1.95" fill="#2BB07F" fill-opacity="0.8"/>
<circle cx="577.2" cy="271.6" r="1.95" fill="#2BB07F" fill-opacity="0.8"/>
<circle cx="567.5" cy="280.4" r="1.95" fill="#2BB07F" fill-opacity="0.8"/>
<circle cx="580.9" cy="283.3" r="1.95" fill="#2BB07F" fill-opacity="0.8"/>
<circle cx="576.0" cy="291.1" r="1.95" fill="#2BB07F" fill-opacity="0.8"/>
<circle cx="571.1" cy="298.4" r="1.95" fill="#2BB07F" fill-opacity="0.8"/>
<circle cx="574.10" cy="275.50" r="1.95" fill="#000"/>
<path d="M598.07 259.70V271.90M598.07 292.40V301.00M594.38 259.70H601.75M594.38 301.00H601.75" stroke="#51C56A" stroke-width="1.1" fill="none"/>
<rect x="588.79" y="271.90" width="18.55" height="20.50" fill="#fff" stroke="#51C56A" stroke-width="1.1"/>
<path d="M588.79 286.30H607.34" stroke="#51C56A" stroke-width="2.3"/>
<circle cx="592.7" cy="259.7" r="1.95" fill="#51C56A" fill-opacity="0.8"/>
<circle cx="594.1" cy="270.5" r="1.95" fill="#51C56A" fill-opacity="0.8"/>
<circle cx="599.2" cy="277.6" r="1.95" fill="#51C56A" fill-opacity="0.8"/>
<circle cx="597.2" cy="279.6" r="1.95" fill="#51C56A" fill-opacity="0.8"/>
<circle cx="592.1" cy="289.8" r="1.95" fill="#51C56A" fill-opacity="0.8"/>
<circle cx="594.8" cy="293.3" r="1.95" fill="#51C56A" fill-opacity="0.8"/>
<circle cx="599.2" cy="294.5" r="1.95" fill="#51C56A" fill-opacity="0.8"/>
<circle cx="595.2" cy="301.0" r="1.95" fill="#51C56A" fill-opacity="0.8"/>
<circle cx="604.3" cy="300.6" r="1.95" fill="#51C56A" fill-opacity="0.8"/>
<circle cx="598.20" cy="283.30" r="1.95" fill="#000"/>
<path d="M621.85 270.60V273.10M621.85 280.60V289.50M618.17 270.60H625.54M618.17 289.50H625.54" stroke="#85D54A" stroke-width="1.1" fill="none"/>
<rect x="612.58" y="273.10" width="18.55" height="7.50" fill="#fff" stroke="#85D54A" stroke-width="1.1"/>
<path d="M612.58 277.80H631.13" stroke="#85D54A" stroke-width="2.3"/>
<circle cx="622.00" cy="298.40" r="2.3" fill="#F00"/>
<circle cx="615.8" cy="298.4" r="1.95" fill="#85D54A" fill-opacity="0.8"/>
<circle cx="615.4" cy="285.5" r="1.95" fill="#85D54A" fill-opacity="0.8"/>
<circle cx="628.8" cy="290.4" r="1.95" fill="#85D54A" fill-opacity="0.8"/>
<circle cx="622.9" cy="270.0" r="1.95" fill="#85D54A" fill-opacity="0.8"/>
<circle cx="624.6" cy="270.6" r="1.95" fill="#85D54A" fill-opacity="0.8"/>
<circle cx="618.9" cy="272.9" r="1.95" fill="#85D54A" fill-opacity="0.8"/>
<circle cx="625.8" cy="274.0" r="1.95" fill="#85D54A" fill-opacity="0.8"/>
<circle cx="616.0" cy="277.5" r="1.95" fill="#85D54A" fill-opacity="0.8"/>
<circle cx="620.0" cy="279.0" r="1.95" fill="#85D54A" fill-opacity="0.8"/>
<circle cx="626.0" cy="280.0" r="1.95" fill="#85D54A" fill-opacity="0.8"/>
<circle cx="621.70" cy="279.80" r="1.95" fill="#000"/>
<path d="M645.64 257.10V262.60M645.64 283.10V291.70M641.95 257.10H649.33M641.95 291.70H649.33" stroke="#C2DF23" stroke-width="1.1" fill="none"/>
<rect x="636.36" y="262.60" width="18.55" height="20.50" fill="#fff" stroke="#C2DF23" stroke-width="1.1"/>
<path d="M636.36 274.40H654.92" stroke="#C2DF23" stroke-width="2.3"/>
<circle cx="647.7" cy="257.1" r="1.95" fill="#C2DF23" fill-opacity="0.8"/>
<circle cx="652.5" cy="260.7" r="1.95" fill="#C2DF23" fill-opacity="0.8"/>
<circle cx="643.3" cy="270.5" r="1.95" fill="#C2DF23" fill-opacity="0.8"/>
<circle cx="646.2" cy="283.9" r="1.95" fill="#C2DF23" fill-opacity="0.8"/>
<circle cx="645.4" cy="287.0" r="1.95" fill="#C2DF23" fill-opacity="0.8"/>
<circle cx="650.6" cy="292.2" r="1.95" fill="#C2DF23" fill-opacity="0.8"/>
<circle cx="641.4" cy="264.2" r="1.95" fill="#C2DF23" fill-opacity="0.8"/>
<circle cx="646.20" cy="274.40" r="1.95" fill="#000"/>
<path d="M669.43 276.80V279.60M669.43 293.80V296.50M665.74 276.80H673.11M665.74 296.50H673.11" stroke="#FDE725" stroke-width="1.1" fill="none"/>
<rect x="660.15" y="279.60" width="18.55" height="14.20" fill="#fff" stroke="#FDE725" stroke-width="1.1"/>
<path d="M660.15 286.20H678.70" stroke="#FDE725" stroke-width="2.3"/>
<circle cx="662.7" cy="276.8" r="1.95" fill="#FDE725" fill-opacity="0.8"/>
<circle cx="663.5" cy="282.3" r="1.95" fill="#FDE725" fill-opacity="0.8"/>
<circle cx="673.7" cy="287.8" r="1.95" fill="#FDE725" fill-opacity="0.8"/>
<circle cx="672.2" cy="291.7" r="1.95" fill="#FDE725" fill-opacity="0.8"/>
<circle cx="665.9" cy="295.7" r="1.95" fill="#FDE725" fill-opacity="0.8"/>
<circle cx="669.0" cy="296.5" r="1.95" fill="#FDE725" fill-opacity="0.8"/>
<circle cx="669.50" cy="286.50" r="1.95" fill="#000"/>
<g opacity="0.999"><text transform="translate(28.50,122.00) scale(0.88,1.0)" text-anchor="end" class="tk">0</text>
<text transform="translate(28.50,96.50) scale(0.88,1.0)" text-anchor="end" class="tk">5</text>
<text transform="translate(28.50,71.00) scale(0.88,1.0)" text-anchor="end" class="tk">10</text>
<text transform="translate(28.50,45.50) scale(0.88,1.0)" text-anchor="end" class="tk">15</text>
<text transform="translate(28.50,20.00) scale(0.88,1.0)" text-anchor="end" class="tk">20</text>
<text transform="translate(49.96,138.60) scale(0.975,1.0)" text-anchor="middle" class="xt">Jan</text>
<text transform="translate(74.06,138.60) scale(0.975,1.0)" text-anchor="middle" class="xt">Feb</text>
<text transform="translate(98.16,138.60) scale(0.975,1.0)" text-anchor="middle" class="xt">Mar</text>
<text transform="translate(122.25,138.60) scale(0.975,1.0)" text-anchor="middle" class="xt">Apr</text>
<text transform="translate(146.35,138.60) scale(0.975,1.0)" text-anchor="middle" class="xt">May</text>
<text transform="translate(170.45,138.60) scale(0.975,1.0)" text-anchor="middle" class="xt">Jun</text>
<text transform="translate(194.55,138.60) scale(0.975,1.0)" text-anchor="middle" class="xt">Jul</text>
<text transform="translate(218.65,138.60) scale(0.975,1.0)" text-anchor="middle" class="xt">Aug</text>
<text transform="translate(242.75,138.60) scale(0.975,1.0)" text-anchor="middle" class="xt">Sep</text>
<text transform="translate(266.84,138.60) scale(0.975,1.0)" text-anchor="middle" class="xt">Oct</text>
<text transform="translate(290.94,138.60) scale(0.975,1.0)" text-anchor="middle" class="xt">Nov</text>
<text transform="translate(315.04,138.60) scale(0.975,1.0)" text-anchor="middle" class="xt">Dec</text>
<text transform="translate(10.10,62.35) rotate(-90) scale(1.0,0.92)" text-anchor="middle" class="yt">DO(mg/l)</text>
<text transform="translate(29.20,159.40)" class="lb">(a)</text>
<text transform="translate(377.50,124.40) scale(0.88,1.0)" text-anchor="end" class="tk">5</text>
<text transform="translate(377.50,86.40) scale(0.88,1.0)" text-anchor="end" class="tk">10</text>
<text transform="translate(377.50,48.40) scale(0.88,1.0)" text-anchor="end" class="tk">15</text>
<text transform="translate(377.50,10.40) scale(0.88,1.0)" text-anchor="end" class="tk">20</text>
<text transform="translate(399.21,141.60) scale(0.975,1.0)" text-anchor="middle" class="xt">Jan</text>
<text transform="translate(423.73,141.60) scale(0.975,1.0)" text-anchor="middle" class="xt">Feb</text>
<text transform="translate(448.24,141.60) scale(0.975,1.0)" text-anchor="middle" class="xt">Mar</text>
<text transform="translate(472.76,141.60) scale(0.975,1.0)" text-anchor="middle" class="xt">Apr</text>
<text transform="translate(497.28,141.60) scale(0.975,1.0)" text-anchor="middle" class="xt">May</text>
<text transform="translate(521.79,141.60) scale(0.975,1.0)" text-anchor="middle" class="xt">Jun</text>
<text transform="translate(546.31,141.60) scale(0.975,1.0)" text-anchor="middle" class="xt">Jul</text>
<text transform="translate(570.82,141.60) scale(0.975,1.0)" text-anchor="middle" class="xt">Aug</text>
<text transform="translate(595.34,141.60) scale(0.975,1.0)" text-anchor="middle" class="xt">Sep</text>
<text transform="translate(619.86,141.60) scale(0.975,1.0)" text-anchor="middle" class="xt">Oct</text>
<text transform="translate(644.37,141.60) scale(0.975,1.0)" text-anchor="middle" class="xt">Nov</text>
<text transform="translate(668.89,141.60) scale(0.975,1.0)" text-anchor="middle" class="xt">Dec</text>
<text transform="translate(357.90,63.85) rotate(-90) scale(1.0,0.92)" text-anchor="middle" class="yt">DO(mg/l)</text>
<text transform="translate(372.80,159.40)" class="lb">(c)</text>
<text transform="translate(34.80,304.80) scale(0.88,1.0)" text-anchor="end" class="tk">0</text>
<text transform="translate(34.80,281.98) scale(0.88,1.0)" text-anchor="end" class="tk">25</text>
<text transform="translate(34.80,259.15) scale(0.88,1.0)" text-anchor="end" class="tk">50</text>
<text transform="translate(34.80,236.32) scale(0.88,1.0)" text-anchor="end" class="tk">75</text>
<text transform="translate(34.80,213.50) scale(0.88,1.0)" text-anchor="end" class="tk">100</text>
<text transform="translate(34.80,190.68) scale(0.88,1.0)" text-anchor="end" class="tk">125</text>
<text transform="translate(55.95,321.40) scale(0.975,1.0)" text-anchor="middle" class="xt">Jan</text>
<text transform="translate(79.54,321.40) scale(0.975,1.0)" text-anchor="middle" class="xt">Feb</text>
<text transform="translate(103.13,321.40) scale(0.975,1.0)" text-anchor="middle" class="xt">Mar</text>
<text transform="translate(126.72,321.40) scale(0.975,1.0)" text-anchor="middle" class="xt">Apr</text>
<text transform="translate(150.31,321.40) scale(0.975,1.0)" text-anchor="middle" class="xt">May</text>
<text transform="translate(173.90,321.40) scale(0.975,1.0)" text-anchor="middle" class="xt">Jun</text>
<text transform="translate(197.50,321.40) scale(0.975,1.0)" text-anchor="middle" class="xt">Jul</text>
<text transform="translate(221.09,321.40) scale(0.975,1.0)" text-anchor="middle" class="xt">Aug</text>
<text transform="translate(244.68,321.40) scale(0.975,1.0)" text-anchor="middle" class="xt">Sep</text>
<text transform="translate(268.27,321.40) scale(0.975,1.0)" text-anchor="middle" class="xt">Oct</text>
<text transform="translate(291.86,321.40) scale(0.975,1.0)" text-anchor="middle" class="xt">Nov</text>
<text transform="translate(315.45,321.40) scale(0.975,1.0)" text-anchor="middle" class="xt">Dec</text>
<text transform="translate(10.10,245.00) rotate(-90) scale(1.0,0.92)" text-anchor="middle" class="yt">BOD(mg/l)</text>
<text transform="translate(24.50,345.40)" class="lb">(b)</text>
<text transform="translate(185.70,345.50) scale(0.96,1.0)" text-anchor="middle" class="mo">Month</text>
<text transform="translate(386.50,316.10) scale(0.88,1.0)" text-anchor="end" class="tk">0.0</text>
<text transform="translate(386.50,292.15) scale(0.88,1.0)" text-anchor="end" class="tk">2.5</text>
<text transform="translate(386.50,268.20) scale(0.88,1.0)" text-anchor="end" class="tk">5.0</text>
<text transform="translate(386.50,244.25) scale(0.88,1.0)" text-anchor="end" class="tk">7.5</text>
<text transform="translate(386.50,220.30) scale(0.88,1.0)" text-anchor="end" class="tk">10.0</text>
<text transform="translate(386.50,196.35) scale(0.88,1.0)" text-anchor="end" class="tk">12.5</text>
<text transform="translate(407.77,328.00) scale(0.975,1.0)" text-anchor="middle" class="xt">Jan</text>
<text transform="translate(431.56,328.00) scale(0.975,1.0)" text-anchor="middle" class="xt">Feb</text>
<text transform="translate(455.35,328.00) scale(0.975,1.0)" text-anchor="middle" class="xt">Mar</text>
<text transform="translate(479.13,328.00) scale(0.975,1.0)" text-anchor="middle" class="xt">Apr</text>
<text transform="translate(502.92,328.00) scale(0.975,1.0)" text-anchor="middle" class="xt">May</text>
<text transform="translate(526.71,328.00) scale(0.975,1.0)" text-anchor="middle" class="xt">Jun</text>
<text transform="translate(550.49,328.00) scale(0.975,1.0)" text-anchor="middle" class="xt">Jul</text>
<text transform="translate(574.28,328.00) scale(0.975,1.0)" text-anchor="middle" class="xt">Aug</text>
<text transform="translate(598.07,328.00) scale(0.975,1.0)" text-anchor="middle" class="xt">Sep</text>
<text transform="translate(621.85,328.00) scale(0.975,1.0)" text-anchor="middle" class="xt">Oct</text>
<text transform="translate(645.64,328.00) scale(0.975,1.0)" text-anchor="middle" class="xt">Nov</text>
<text transform="translate(669.43,328.00) scale(0.975,1.0)" text-anchor="middle" class="xt">Dec</text>
<text transform="translate(357.90,250.10) rotate(-90) scale(1.0,0.92)" text-anchor="middle" class="yt">BOD(mg/l)</text>
<text transform="translate(367.70,345.40)" class="lb">(d)</text>
<text transform="translate(538.60,345.60) scale(0.96,1.0)" text-anchor="middle" class="mo">Month</text></g>
</svg>
</body></html>
